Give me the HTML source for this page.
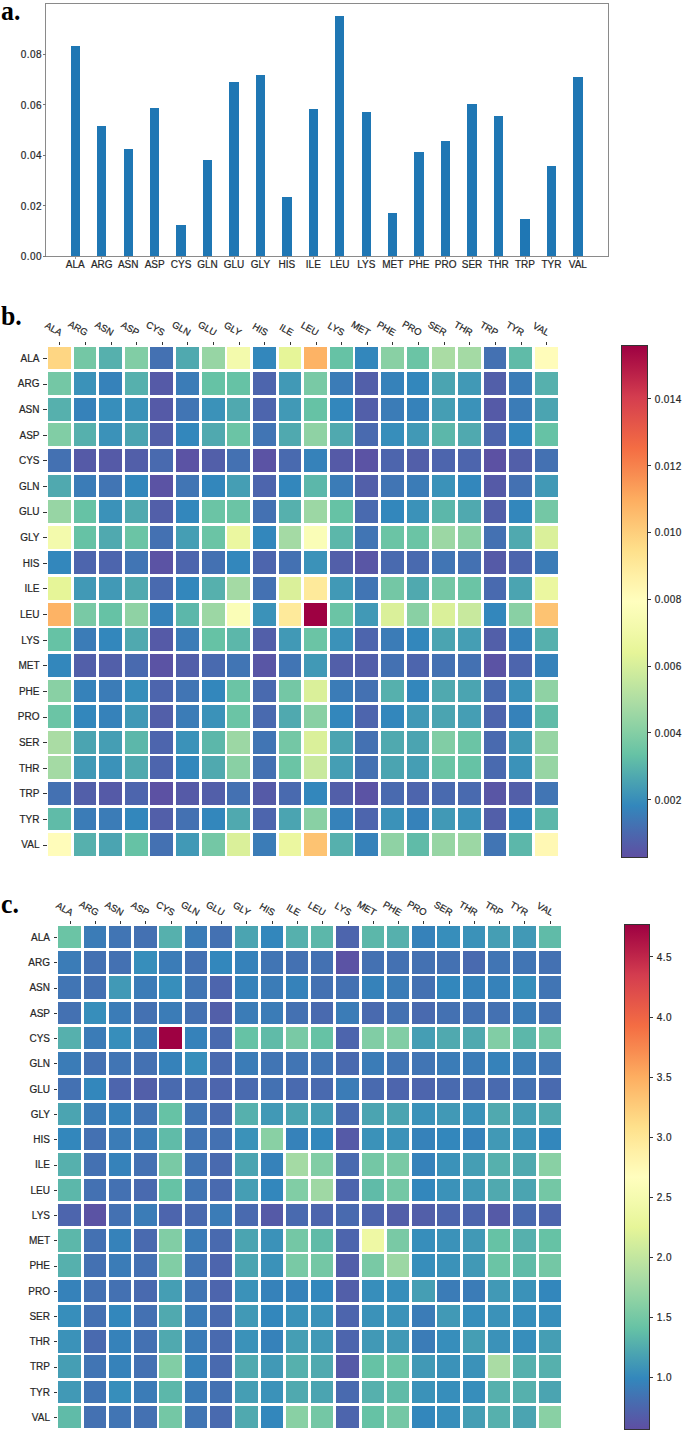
<!DOCTYPE html><html><head><meta charset="utf-8"><style>
*{margin:0;padding:0;box-sizing:border-box}
html,body{width:685px;height:1435px;background:#fff;overflow:hidden}
body{position:relative;font-family:"Liberation Sans", sans-serif;color:#262626}
.t,.rl,.cl{-webkit-text-stroke:0.2px #262626}
.a{position:absolute}
.pl{position:absolute;font-family:"Liberation Serif",serif;font-weight:bold;font-size:28px;line-height:1;color:#000;transform:scaleX(0.92);transform-origin:0 0}
.t{position:absolute;font-size:10px;line-height:1;white-space:nowrap}
.n{letter-spacing:0.4px}
.bar{position:absolute;background:#1f77b4}
.c{position:absolute}
.rl{position:absolute;font-size:10px;line-height:1;white-space:nowrap;text-align:right}
.cl{position:absolute;font-size:9.5px;line-height:1;white-space:nowrap;transform-origin:100% 100%;transform:rotate(30deg)}
.tk{position:absolute;background:#333}
</style></head><body>
<div class="pl" style="left:1px;top:-3.2px">a.</div>
<div class="a" style="left:45px;top:3.4px;width:564px;height:253.6px;border:1px solid #8a8a8a"></div>
<div class="bar" style="left:70.60px;top:46.20px;width:9.4px;height:210.00px"></div>
<div class="tk" style="left:74.90px;top:256.8px;width:0.8px;height:2px;background:#999"></div>
<div class="t" style="left:55.30px;top:260px;width:40px;text-align:center">ALA</div>
<div class="bar" style="left:97.05px;top:126.20px;width:9.4px;height:130.00px"></div>
<div class="tk" style="left:101.35px;top:256.8px;width:0.8px;height:2px;background:#999"></div>
<div class="t" style="left:81.75px;top:260px;width:40px;text-align:center">ARG</div>
<div class="bar" style="left:123.50px;top:149.30px;width:9.4px;height:106.90px"></div>
<div class="tk" style="left:127.80px;top:256.8px;width:0.8px;height:2px;background:#999"></div>
<div class="t" style="left:108.20px;top:260px;width:40px;text-align:center">ASN</div>
<div class="bar" style="left:149.95px;top:108.00px;width:9.4px;height:148.20px"></div>
<div class="tk" style="left:154.25px;top:256.8px;width:0.8px;height:2px;background:#999"></div>
<div class="t" style="left:134.65px;top:260px;width:40px;text-align:center">ASP</div>
<div class="bar" style="left:176.40px;top:224.60px;width:9.4px;height:31.60px"></div>
<div class="tk" style="left:180.70px;top:256.8px;width:0.8px;height:2px;background:#999"></div>
<div class="t" style="left:161.10px;top:260px;width:40px;text-align:center">CYS</div>
<div class="bar" style="left:202.85px;top:159.90px;width:9.4px;height:96.30px"></div>
<div class="tk" style="left:207.15px;top:256.8px;width:0.8px;height:2px;background:#999"></div>
<div class="t" style="left:187.55px;top:260px;width:40px;text-align:center">GLN</div>
<div class="bar" style="left:229.30px;top:82.00px;width:9.4px;height:174.20px"></div>
<div class="tk" style="left:233.60px;top:256.8px;width:0.8px;height:2px;background:#999"></div>
<div class="t" style="left:214.00px;top:260px;width:40px;text-align:center">GLU</div>
<div class="bar" style="left:255.75px;top:74.80px;width:9.4px;height:181.40px"></div>
<div class="tk" style="left:260.05px;top:256.8px;width:0.8px;height:2px;background:#999"></div>
<div class="t" style="left:240.45px;top:260px;width:40px;text-align:center">GLY</div>
<div class="bar" style="left:282.20px;top:196.60px;width:9.4px;height:59.60px"></div>
<div class="tk" style="left:286.50px;top:256.8px;width:0.8px;height:2px;background:#999"></div>
<div class="t" style="left:266.90px;top:260px;width:40px;text-align:center">HIS</div>
<div class="bar" style="left:308.65px;top:108.70px;width:9.4px;height:147.50px"></div>
<div class="tk" style="left:312.95px;top:256.8px;width:0.8px;height:2px;background:#999"></div>
<div class="t" style="left:293.35px;top:260px;width:40px;text-align:center">ILE</div>
<div class="bar" style="left:335.10px;top:15.50px;width:9.4px;height:240.70px"></div>
<div class="tk" style="left:339.40px;top:256.8px;width:0.8px;height:2px;background:#999"></div>
<div class="t" style="left:319.80px;top:260px;width:40px;text-align:center">LEU</div>
<div class="bar" style="left:361.55px;top:112.20px;width:9.4px;height:144.00px"></div>
<div class="tk" style="left:365.85px;top:256.8px;width:0.8px;height:2px;background:#999"></div>
<div class="t" style="left:346.25px;top:260px;width:40px;text-align:center">LYS</div>
<div class="bar" style="left:388.00px;top:213.20px;width:9.4px;height:43.00px"></div>
<div class="tk" style="left:392.30px;top:256.8px;width:0.8px;height:2px;background:#999"></div>
<div class="t" style="left:372.70px;top:260px;width:40px;text-align:center">MET</div>
<div class="bar" style="left:414.45px;top:151.50px;width:9.4px;height:104.70px"></div>
<div class="tk" style="left:418.75px;top:256.8px;width:0.8px;height:2px;background:#999"></div>
<div class="t" style="left:399.15px;top:260px;width:40px;text-align:center">PHE</div>
<div class="bar" style="left:440.90px;top:140.90px;width:9.4px;height:115.30px"></div>
<div class="tk" style="left:445.20px;top:256.8px;width:0.8px;height:2px;background:#999"></div>
<div class="t" style="left:425.60px;top:260px;width:40px;text-align:center">PRO</div>
<div class="bar" style="left:467.35px;top:103.80px;width:9.4px;height:152.40px"></div>
<div class="tk" style="left:471.65px;top:256.8px;width:0.8px;height:2px;background:#999"></div>
<div class="t" style="left:452.05px;top:260px;width:40px;text-align:center">SER</div>
<div class="bar" style="left:493.80px;top:116.30px;width:9.4px;height:139.90px"></div>
<div class="tk" style="left:498.10px;top:256.8px;width:0.8px;height:2px;background:#999"></div>
<div class="t" style="left:478.50px;top:260px;width:40px;text-align:center">THR</div>
<div class="bar" style="left:520.25px;top:219.40px;width:9.4px;height:36.80px"></div>
<div class="tk" style="left:524.55px;top:256.8px;width:0.8px;height:2px;background:#999"></div>
<div class="t" style="left:504.95px;top:260px;width:40px;text-align:center">TRP</div>
<div class="bar" style="left:546.70px;top:165.70px;width:9.4px;height:90.50px"></div>
<div class="tk" style="left:551.00px;top:256.8px;width:0.8px;height:2px;background:#999"></div>
<div class="t" style="left:531.40px;top:260px;width:40px;text-align:center">TYR</div>
<div class="bar" style="left:573.15px;top:77.20px;width:9.4px;height:179.00px"></div>
<div class="tk" style="left:577.45px;top:256.8px;width:0.8px;height:2px;background:#999"></div>
<div class="t" style="left:557.85px;top:260px;width:40px;text-align:center">VAL</div>
<div class="tk" style="left:43px;top:255.90px;width:2.5px;height:0.8px;background:#777"></div>
<div class="t n" style="left:0px;top:252.30px;width:41.9px;text-align:right">0.00</div>
<div class="tk" style="left:43px;top:205.40px;width:2.5px;height:0.8px;background:#777"></div>
<div class="t n" style="left:0px;top:201.80px;width:41.9px;text-align:right">0.02</div>
<div class="tk" style="left:43px;top:154.90px;width:2.5px;height:0.8px;background:#777"></div>
<div class="t n" style="left:0px;top:151.30px;width:41.9px;text-align:right">0.04</div>
<div class="tk" style="left:43px;top:104.40px;width:2.5px;height:0.8px;background:#777"></div>
<div class="t n" style="left:0px;top:100.80px;width:41.9px;text-align:right">0.06</div>
<div class="tk" style="left:43px;top:53.90px;width:2.5px;height:0.8px;background:#777"></div>
<div class="t n" style="left:0px;top:50.30px;width:41.9px;text-align:right">0.08</div>
<div class="pl" style="left:0.9px;top:302.3px">b.</div>
<div class="c" style="left:48.01px;top:346.51px;width:22.80px;height:22.80px;background:#fed683"></div>
<div class="c" style="left:73.63px;top:346.51px;width:22.80px;height:22.80px;background:#74c7a5"></div>
<div class="c" style="left:99.25px;top:346.51px;width:22.80px;height:22.80px;background:#56b0ad"></div>
<div class="c" style="left:124.87px;top:346.51px;width:22.80px;height:22.80px;background:#81cda5"></div>
<div class="c" style="left:150.49px;top:346.51px;width:22.80px;height:22.80px;background:#4471b2"></div>
<div class="c" style="left:176.11px;top:346.51px;width:22.80px;height:22.80px;background:#50a9af"></div>
<div class="c" style="left:201.73px;top:346.51px;width:22.80px;height:22.80px;background:#97d5a4"></div>
<div class="c" style="left:227.35px;top:346.51px;width:22.80px;height:22.80px;background:#f3faac"></div>
<div class="c" style="left:252.97px;top:346.51px;width:22.80px;height:22.80px;background:#3387bc"></div>
<div class="c" style="left:278.59px;top:346.51px;width:22.80px;height:22.80px;background:#e6f598"></div>
<div class="c" style="left:304.21px;top:346.51px;width:22.80px;height:22.80px;background:#fdb365"></div>
<div class="c" style="left:329.83px;top:346.51px;width:22.80px;height:22.80px;background:#66c2a5"></div>
<div class="c" style="left:355.45px;top:346.51px;width:22.80px;height:22.80px;background:#3387bc"></div>
<div class="c" style="left:381.07px;top:346.51px;width:22.80px;height:22.80px;background:#89d0a4"></div>
<div class="c" style="left:406.69px;top:346.51px;width:22.80px;height:22.80px;background:#6bc4a5"></div>
<div class="c" style="left:432.31px;top:346.51px;width:22.80px;height:22.80px;background:#aadca4"></div>
<div class="c" style="left:457.93px;top:346.51px;width:22.80px;height:22.80px;background:#a4daa4"></div>
<div class="c" style="left:483.55px;top:346.51px;width:22.80px;height:22.80px;background:#4471b2"></div>
<div class="c" style="left:509.17px;top:346.51px;width:22.80px;height:22.80px;background:#60bba8"></div>
<div class="c" style="left:534.79px;top:346.51px;width:22.80px;height:22.80px;background:#fffcba"></div>
<div class="c" style="left:48.01px;top:372.13px;width:22.80px;height:22.80px;background:#74c7a5"></div>
<div class="c" style="left:73.63px;top:372.13px;width:22.80px;height:22.80px;background:#3b92b9"></div>
<div class="c" style="left:99.25px;top:372.13px;width:22.80px;height:22.80px;background:#3682ba"></div>
<div class="c" style="left:124.87px;top:372.13px;width:22.80px;height:22.80px;background:#56b0ad"></div>
<div class="c" style="left:150.49px;top:372.13px;width:22.80px;height:22.80px;background:#555aa7"></div>
<div class="c" style="left:176.11px;top:372.13px;width:22.80px;height:22.80px;background:#3b7cb7"></div>
<div class="c" style="left:201.73px;top:372.13px;width:22.80px;height:22.80px;background:#66c2a5"></div>
<div class="c" style="left:227.35px;top:372.13px;width:22.80px;height:22.80px;background:#66c2a5"></div>
<div class="c" style="left:252.97px;top:372.13px;width:22.80px;height:22.80px;background:#4d65ad"></div>
<div class="c" style="left:278.59px;top:372.13px;width:22.80px;height:22.80px;background:#4199b6"></div>
<div class="c" style="left:304.21px;top:372.13px;width:22.80px;height:22.80px;background:#79c9a5"></div>
<div class="c" style="left:329.83px;top:372.13px;width:22.80px;height:22.80px;background:#3b7cb7"></div>
<div class="c" style="left:355.45px;top:372.13px;width:22.80px;height:22.80px;background:#525fa9"></div>
<div class="c" style="left:381.07px;top:372.13px;width:22.80px;height:22.80px;background:#3682ba"></div>
<div class="c" style="left:406.69px;top:372.13px;width:22.80px;height:22.80px;background:#3387bc"></div>
<div class="c" style="left:432.31px;top:372.13px;width:22.80px;height:22.80px;background:#4ba4b1"></div>
<div class="c" style="left:457.93px;top:372.13px;width:22.80px;height:22.80px;background:#4199b6"></div>
<div class="c" style="left:483.55px;top:372.13px;width:22.80px;height:22.80px;background:#525fa9"></div>
<div class="c" style="left:509.17px;top:372.13px;width:22.80px;height:22.80px;background:#3b7cb7"></div>
<div class="c" style="left:534.79px;top:372.13px;width:22.80px;height:22.80px;background:#56b0ad"></div>
<div class="c" style="left:48.01px;top:397.75px;width:22.80px;height:22.80px;background:#56b0ad"></div>
<div class="c" style="left:73.63px;top:397.75px;width:22.80px;height:22.80px;background:#3682ba"></div>
<div class="c" style="left:99.25px;top:397.75px;width:22.80px;height:22.80px;background:#378ebb"></div>
<div class="c" style="left:124.87px;top:397.75px;width:22.80px;height:22.80px;background:#3b92b9"></div>
<div class="c" style="left:150.49px;top:397.75px;width:22.80px;height:22.80px;background:#555aa7"></div>
<div class="c" style="left:176.11px;top:397.75px;width:22.80px;height:22.80px;background:#4175b4"></div>
<div class="c" style="left:201.73px;top:397.75px;width:22.80px;height:22.80px;background:#3b92b9"></div>
<div class="c" style="left:227.35px;top:397.75px;width:22.80px;height:22.80px;background:#50a9af"></div>
<div class="c" style="left:252.97px;top:397.75px;width:22.80px;height:22.80px;background:#4d65ad"></div>
<div class="c" style="left:278.59px;top:397.75px;width:22.80px;height:22.80px;background:#4199b6"></div>
<div class="c" style="left:304.21px;top:397.75px;width:22.80px;height:22.80px;background:#66c2a5"></div>
<div class="c" style="left:329.83px;top:397.75px;width:22.80px;height:22.80px;background:#3387bc"></div>
<div class="c" style="left:355.45px;top:397.75px;width:22.80px;height:22.80px;background:#525fa9"></div>
<div class="c" style="left:381.07px;top:397.75px;width:22.80px;height:22.80px;background:#3b7cb7"></div>
<div class="c" style="left:406.69px;top:397.75px;width:22.80px;height:22.80px;background:#3682ba"></div>
<div class="c" style="left:432.31px;top:397.75px;width:22.80px;height:22.80px;background:#459eb4"></div>
<div class="c" style="left:457.93px;top:397.75px;width:22.80px;height:22.80px;background:#3b92b9"></div>
<div class="c" style="left:483.55px;top:397.75px;width:22.80px;height:22.80px;background:#555aa7"></div>
<div class="c" style="left:509.17px;top:397.75px;width:22.80px;height:22.80px;background:#3b7cb7"></div>
<div class="c" style="left:534.79px;top:397.75px;width:22.80px;height:22.80px;background:#4ba4b1"></div>
<div class="c" style="left:48.01px;top:423.37px;width:22.80px;height:22.80px;background:#81cda5"></div>
<div class="c" style="left:73.63px;top:423.37px;width:22.80px;height:22.80px;background:#56b0ad"></div>
<div class="c" style="left:99.25px;top:423.37px;width:22.80px;height:22.80px;background:#3b92b9"></div>
<div class="c" style="left:124.87px;top:423.37px;width:22.80px;height:22.80px;background:#4ba4b1"></div>
<div class="c" style="left:150.49px;top:423.37px;width:22.80px;height:22.80px;background:#525fa9"></div>
<div class="c" style="left:176.11px;top:423.37px;width:22.80px;height:22.80px;background:#3387bc"></div>
<div class="c" style="left:201.73px;top:423.37px;width:22.80px;height:22.80px;background:#50a9af"></div>
<div class="c" style="left:227.35px;top:423.37px;width:22.80px;height:22.80px;background:#6bc4a5"></div>
<div class="c" style="left:252.97px;top:423.37px;width:22.80px;height:22.80px;background:#4175b4"></div>
<div class="c" style="left:278.59px;top:423.37px;width:22.80px;height:22.80px;background:#50a9af"></div>
<div class="c" style="left:304.21px;top:423.37px;width:22.80px;height:22.80px;background:#8fd2a4"></div>
<div class="c" style="left:329.83px;top:423.37px;width:22.80px;height:22.80px;background:#50a9af"></div>
<div class="c" style="left:355.45px;top:423.37px;width:22.80px;height:22.80px;background:#496aaf"></div>
<div class="c" style="left:381.07px;top:423.37px;width:22.80px;height:22.80px;background:#378ebb"></div>
<div class="c" style="left:406.69px;top:423.37px;width:22.80px;height:22.80px;background:#4199b6"></div>
<div class="c" style="left:432.31px;top:423.37px;width:22.80px;height:22.80px;background:#5cb7aa"></div>
<div class="c" style="left:457.93px;top:423.37px;width:22.80px;height:22.80px;background:#50a9af"></div>
<div class="c" style="left:483.55px;top:423.37px;width:22.80px;height:22.80px;background:#4d65ad"></div>
<div class="c" style="left:509.17px;top:423.37px;width:22.80px;height:22.80px;background:#3387bc"></div>
<div class="c" style="left:534.79px;top:423.37px;width:22.80px;height:22.80px;background:#66c2a5"></div>
<div class="c" style="left:48.01px;top:448.99px;width:22.80px;height:22.80px;background:#4471b2"></div>
<div class="c" style="left:73.63px;top:448.99px;width:22.80px;height:22.80px;background:#555aa7"></div>
<div class="c" style="left:99.25px;top:448.99px;width:22.80px;height:22.80px;background:#555aa7"></div>
<div class="c" style="left:124.87px;top:448.99px;width:22.80px;height:22.80px;background:#525fa9"></div>
<div class="c" style="left:150.49px;top:448.99px;width:22.80px;height:22.80px;background:#496aaf"></div>
<div class="c" style="left:176.11px;top:448.99px;width:22.80px;height:22.80px;background:#5b53a4"></div>
<div class="c" style="left:201.73px;top:448.99px;width:22.80px;height:22.80px;background:#525fa9"></div>
<div class="c" style="left:227.35px;top:448.99px;width:22.80px;height:22.80px;background:#4471b2"></div>
<div class="c" style="left:252.97px;top:448.99px;width:22.80px;height:22.80px;background:#5b53a4"></div>
<div class="c" style="left:278.59px;top:448.99px;width:22.80px;height:22.80px;background:#496aaf"></div>
<div class="c" style="left:304.21px;top:448.99px;width:22.80px;height:22.80px;background:#3682ba"></div>
<div class="c" style="left:329.83px;top:448.99px;width:22.80px;height:22.80px;background:#555aa7"></div>
<div class="c" style="left:355.45px;top:448.99px;width:22.80px;height:22.80px;background:#5b53a4"></div>
<div class="c" style="left:381.07px;top:448.99px;width:22.80px;height:22.80px;background:#4d65ad"></div>
<div class="c" style="left:406.69px;top:448.99px;width:22.80px;height:22.80px;background:#525fa9"></div>
<div class="c" style="left:432.31px;top:448.99px;width:22.80px;height:22.80px;background:#4d65ad"></div>
<div class="c" style="left:457.93px;top:448.99px;width:22.80px;height:22.80px;background:#4d65ad"></div>
<div class="c" style="left:483.55px;top:448.99px;width:22.80px;height:22.80px;background:#5c51a3"></div>
<div class="c" style="left:509.17px;top:448.99px;width:22.80px;height:22.80px;background:#525fa9"></div>
<div class="c" style="left:534.79px;top:448.99px;width:22.80px;height:22.80px;background:#4471b2"></div>
<div class="c" style="left:48.01px;top:474.61px;width:22.80px;height:22.80px;background:#50a9af"></div>
<div class="c" style="left:73.63px;top:474.61px;width:22.80px;height:22.80px;background:#3b7cb7"></div>
<div class="c" style="left:99.25px;top:474.61px;width:22.80px;height:22.80px;background:#4175b4"></div>
<div class="c" style="left:124.87px;top:474.61px;width:22.80px;height:22.80px;background:#3387bc"></div>
<div class="c" style="left:150.49px;top:474.61px;width:22.80px;height:22.80px;background:#5b53a4"></div>
<div class="c" style="left:176.11px;top:474.61px;width:22.80px;height:22.80px;background:#4175b4"></div>
<div class="c" style="left:201.73px;top:474.61px;width:22.80px;height:22.80px;background:#3387bc"></div>
<div class="c" style="left:227.35px;top:474.61px;width:22.80px;height:22.80px;background:#459eb4"></div>
<div class="c" style="left:252.97px;top:474.61px;width:22.80px;height:22.80px;background:#4d65ad"></div>
<div class="c" style="left:278.59px;top:474.61px;width:22.80px;height:22.80px;background:#3387bc"></div>
<div class="c" style="left:304.21px;top:474.61px;width:22.80px;height:22.80px;background:#5cb7aa"></div>
<div class="c" style="left:329.83px;top:474.61px;width:22.80px;height:22.80px;background:#3b7cb7"></div>
<div class="c" style="left:355.45px;top:474.61px;width:22.80px;height:22.80px;background:#525fa9"></div>
<div class="c" style="left:381.07px;top:474.61px;width:22.80px;height:22.80px;background:#4175b4"></div>
<div class="c" style="left:406.69px;top:474.61px;width:22.80px;height:22.80px;background:#3b7cb7"></div>
<div class="c" style="left:432.31px;top:474.61px;width:22.80px;height:22.80px;background:#3b92b9"></div>
<div class="c" style="left:457.93px;top:474.61px;width:22.80px;height:22.80px;background:#3387bc"></div>
<div class="c" style="left:483.55px;top:474.61px;width:22.80px;height:22.80px;background:#555aa7"></div>
<div class="c" style="left:509.17px;top:474.61px;width:22.80px;height:22.80px;background:#4471b2"></div>
<div class="c" style="left:534.79px;top:474.61px;width:22.80px;height:22.80px;background:#4199b6"></div>
<div class="c" style="left:48.01px;top:500.23px;width:22.80px;height:22.80px;background:#97d5a4"></div>
<div class="c" style="left:73.63px;top:500.23px;width:22.80px;height:22.80px;background:#66c2a5"></div>
<div class="c" style="left:99.25px;top:500.23px;width:22.80px;height:22.80px;background:#3b92b9"></div>
<div class="c" style="left:124.87px;top:500.23px;width:22.80px;height:22.80px;background:#50a9af"></div>
<div class="c" style="left:150.49px;top:500.23px;width:22.80px;height:22.80px;background:#525fa9"></div>
<div class="c" style="left:176.11px;top:500.23px;width:22.80px;height:22.80px;background:#3387bc"></div>
<div class="c" style="left:201.73px;top:500.23px;width:22.80px;height:22.80px;background:#6bc4a5"></div>
<div class="c" style="left:227.35px;top:500.23px;width:22.80px;height:22.80px;background:#6bc4a5"></div>
<div class="c" style="left:252.97px;top:500.23px;width:22.80px;height:22.80px;background:#4471b2"></div>
<div class="c" style="left:278.59px;top:500.23px;width:22.80px;height:22.80px;background:#56b0ad"></div>
<div class="c" style="left:304.21px;top:500.23px;width:22.80px;height:22.80px;background:#9cd7a4"></div>
<div class="c" style="left:329.83px;top:500.23px;width:22.80px;height:22.80px;background:#66c2a5"></div>
<div class="c" style="left:355.45px;top:500.23px;width:22.80px;height:22.80px;background:#496aaf"></div>
<div class="c" style="left:381.07px;top:500.23px;width:22.80px;height:22.80px;background:#3387bc"></div>
<div class="c" style="left:406.69px;top:500.23px;width:22.80px;height:22.80px;background:#3b92b9"></div>
<div class="c" style="left:432.31px;top:500.23px;width:22.80px;height:22.80px;background:#5cb7aa"></div>
<div class="c" style="left:457.93px;top:500.23px;width:22.80px;height:22.80px;background:#50a9af"></div>
<div class="c" style="left:483.55px;top:500.23px;width:22.80px;height:22.80px;background:#525fa9"></div>
<div class="c" style="left:509.17px;top:500.23px;width:22.80px;height:22.80px;background:#3387bc"></div>
<div class="c" style="left:534.79px;top:500.23px;width:22.80px;height:22.80px;background:#74c7a5"></div>
<div class="c" style="left:48.01px;top:525.85px;width:22.80px;height:22.80px;background:#f3faac"></div>
<div class="c" style="left:73.63px;top:525.85px;width:22.80px;height:22.80px;background:#66c2a5"></div>
<div class="c" style="left:99.25px;top:525.85px;width:22.80px;height:22.80px;background:#50a9af"></div>
<div class="c" style="left:124.87px;top:525.85px;width:22.80px;height:22.80px;background:#6bc4a5"></div>
<div class="c" style="left:150.49px;top:525.85px;width:22.80px;height:22.80px;background:#4471b2"></div>
<div class="c" style="left:176.11px;top:525.85px;width:22.80px;height:22.80px;background:#459eb4"></div>
<div class="c" style="left:201.73px;top:525.85px;width:22.80px;height:22.80px;background:#6bc4a5"></div>
<div class="c" style="left:227.35px;top:525.85px;width:22.80px;height:22.80px;background:#ebf7a0"></div>
<div class="c" style="left:252.97px;top:525.85px;width:22.80px;height:22.80px;background:#3387bc"></div>
<div class="c" style="left:278.59px;top:525.85px;width:22.80px;height:22.80px;background:#a4daa4"></div>
<div class="c" style="left:304.21px;top:525.85px;width:22.80px;height:22.80px;background:#fafdb7"></div>
<div class="c" style="left:329.83px;top:525.85px;width:22.80px;height:22.80px;background:#5cb7aa"></div>
<div class="c" style="left:355.45px;top:525.85px;width:22.80px;height:22.80px;background:#4175b4"></div>
<div class="c" style="left:381.07px;top:525.85px;width:22.80px;height:22.80px;background:#6bc4a5"></div>
<div class="c" style="left:406.69px;top:525.85px;width:22.80px;height:22.80px;background:#6bc4a5"></div>
<div class="c" style="left:432.31px;top:525.85px;width:22.80px;height:22.80px;background:#9cd7a4"></div>
<div class="c" style="left:457.93px;top:525.85px;width:22.80px;height:22.80px;background:#89d0a4"></div>
<div class="c" style="left:483.55px;top:525.85px;width:22.80px;height:22.80px;background:#4471b2"></div>
<div class="c" style="left:509.17px;top:525.85px;width:22.80px;height:22.80px;background:#50a9af"></div>
<div class="c" style="left:534.79px;top:525.85px;width:22.80px;height:22.80px;background:#daf09a"></div>
<div class="c" style="left:48.01px;top:551.47px;width:22.80px;height:22.80px;background:#3387bc"></div>
<div class="c" style="left:73.63px;top:551.47px;width:22.80px;height:22.80px;background:#4d65ad"></div>
<div class="c" style="left:99.25px;top:551.47px;width:22.80px;height:22.80px;background:#4d65ad"></div>
<div class="c" style="left:124.87px;top:551.47px;width:22.80px;height:22.80px;background:#4175b4"></div>
<div class="c" style="left:150.49px;top:551.47px;width:22.80px;height:22.80px;background:#5b53a4"></div>
<div class="c" style="left:176.11px;top:551.47px;width:22.80px;height:22.80px;background:#4d65ad"></div>
<div class="c" style="left:201.73px;top:551.47px;width:22.80px;height:22.80px;background:#4471b2"></div>
<div class="c" style="left:227.35px;top:551.47px;width:22.80px;height:22.80px;background:#3387bc"></div>
<div class="c" style="left:252.97px;top:551.47px;width:22.80px;height:22.80px;background:#4d65ad"></div>
<div class="c" style="left:278.59px;top:551.47px;width:22.80px;height:22.80px;background:#4471b2"></div>
<div class="c" style="left:304.21px;top:551.47px;width:22.80px;height:22.80px;background:#3b92b9"></div>
<div class="c" style="left:329.83px;top:551.47px;width:22.80px;height:22.80px;background:#525fa9"></div>
<div class="c" style="left:355.45px;top:551.47px;width:22.80px;height:22.80px;background:#5956a5"></div>
<div class="c" style="left:381.07px;top:551.47px;width:22.80px;height:22.80px;background:#496aaf"></div>
<div class="c" style="left:406.69px;top:551.47px;width:22.80px;height:22.80px;background:#496aaf"></div>
<div class="c" style="left:432.31px;top:551.47px;width:22.80px;height:22.80px;background:#4175b4"></div>
<div class="c" style="left:457.93px;top:551.47px;width:22.80px;height:22.80px;background:#4471b2"></div>
<div class="c" style="left:483.55px;top:551.47px;width:22.80px;height:22.80px;background:#555aa7"></div>
<div class="c" style="left:509.17px;top:551.47px;width:22.80px;height:22.80px;background:#4d65ad"></div>
<div class="c" style="left:534.79px;top:551.47px;width:22.80px;height:22.80px;background:#3b7cb7"></div>
<div class="c" style="left:48.01px;top:577.09px;width:22.80px;height:22.80px;background:#e6f598"></div>
<div class="c" style="left:73.63px;top:577.09px;width:22.80px;height:22.80px;background:#4199b6"></div>
<div class="c" style="left:99.25px;top:577.09px;width:22.80px;height:22.80px;background:#4199b6"></div>
<div class="c" style="left:124.87px;top:577.09px;width:22.80px;height:22.80px;background:#50a9af"></div>
<div class="c" style="left:150.49px;top:577.09px;width:22.80px;height:22.80px;background:#496aaf"></div>
<div class="c" style="left:176.11px;top:577.09px;width:22.80px;height:22.80px;background:#3387bc"></div>
<div class="c" style="left:201.73px;top:577.09px;width:22.80px;height:22.80px;background:#56b0ad"></div>
<div class="c" style="left:227.35px;top:577.09px;width:22.80px;height:22.80px;background:#a4daa4"></div>
<div class="c" style="left:252.97px;top:577.09px;width:22.80px;height:22.80px;background:#4471b2"></div>
<div class="c" style="left:278.59px;top:577.09px;width:22.80px;height:22.80px;background:#daf09a"></div>
<div class="c" style="left:304.21px;top:577.09px;width:22.80px;height:22.80px;background:#feea9b"></div>
<div class="c" style="left:329.83px;top:577.09px;width:22.80px;height:22.80px;background:#4199b6"></div>
<div class="c" style="left:355.45px;top:577.09px;width:22.80px;height:22.80px;background:#4175b4"></div>
<div class="c" style="left:381.07px;top:577.09px;width:22.80px;height:22.80px;background:#74c7a5"></div>
<div class="c" style="left:406.69px;top:577.09px;width:22.80px;height:22.80px;background:#50a9af"></div>
<div class="c" style="left:432.31px;top:577.09px;width:22.80px;height:22.80px;background:#74c7a5"></div>
<div class="c" style="left:457.93px;top:577.09px;width:22.80px;height:22.80px;background:#6bc4a5"></div>
<div class="c" style="left:483.55px;top:577.09px;width:22.80px;height:22.80px;background:#496aaf"></div>
<div class="c" style="left:509.17px;top:577.09px;width:22.80px;height:22.80px;background:#4ba4b1"></div>
<div class="c" style="left:534.79px;top:577.09px;width:22.80px;height:22.80px;background:#ebf7a0"></div>
<div class="c" style="left:48.01px;top:602.71px;width:22.80px;height:22.80px;background:#fdb365"></div>
<div class="c" style="left:73.63px;top:602.71px;width:22.80px;height:22.80px;background:#79c9a5"></div>
<div class="c" style="left:99.25px;top:602.71px;width:22.80px;height:22.80px;background:#66c2a5"></div>
<div class="c" style="left:124.87px;top:602.71px;width:22.80px;height:22.80px;background:#8fd2a4"></div>
<div class="c" style="left:150.49px;top:602.71px;width:22.80px;height:22.80px;background:#3682ba"></div>
<div class="c" style="left:176.11px;top:602.71px;width:22.80px;height:22.80px;background:#5cb7aa"></div>
<div class="c" style="left:201.73px;top:602.71px;width:22.80px;height:22.80px;background:#9cd7a4"></div>
<div class="c" style="left:227.35px;top:602.71px;width:22.80px;height:22.80px;background:#fafdb7"></div>
<div class="c" style="left:252.97px;top:602.71px;width:22.80px;height:22.80px;background:#3b92b9"></div>
<div class="c" style="left:278.59px;top:602.71px;width:22.80px;height:22.80px;background:#feea9b"></div>
<div class="c" style="left:304.21px;top:602.71px;width:22.80px;height:22.80px;background:#9e0142"></div>
<div class="c" style="left:329.83px;top:602.71px;width:22.80px;height:22.80px;background:#6bc4a5"></div>
<div class="c" style="left:355.45px;top:602.71px;width:22.80px;height:22.80px;background:#4199b6"></div>
<div class="c" style="left:381.07px;top:602.71px;width:22.80px;height:22.80px;background:#daf09a"></div>
<div class="c" style="left:406.69px;top:602.71px;width:22.80px;height:22.80px;background:#89d0a4"></div>
<div class="c" style="left:432.31px;top:602.71px;width:22.80px;height:22.80px;background:#daf09a"></div>
<div class="c" style="left:457.93px;top:602.71px;width:22.80px;height:22.80px;background:#c8e99e"></div>
<div class="c" style="left:483.55px;top:602.71px;width:22.80px;height:22.80px;background:#3387bc"></div>
<div class="c" style="left:509.17px;top:602.71px;width:22.80px;height:22.80px;background:#89d0a4"></div>
<div class="c" style="left:534.79px;top:602.71px;width:22.80px;height:22.80px;background:#fdc372"></div>
<div class="c" style="left:48.01px;top:628.33px;width:22.80px;height:22.80px;background:#66c2a5"></div>
<div class="c" style="left:73.63px;top:628.33px;width:22.80px;height:22.80px;background:#3b7cb7"></div>
<div class="c" style="left:99.25px;top:628.33px;width:22.80px;height:22.80px;background:#3387bc"></div>
<div class="c" style="left:124.87px;top:628.33px;width:22.80px;height:22.80px;background:#50a9af"></div>
<div class="c" style="left:150.49px;top:628.33px;width:22.80px;height:22.80px;background:#555aa7"></div>
<div class="c" style="left:176.11px;top:628.33px;width:22.80px;height:22.80px;background:#3b7cb7"></div>
<div class="c" style="left:201.73px;top:628.33px;width:22.80px;height:22.80px;background:#66c2a5"></div>
<div class="c" style="left:227.35px;top:628.33px;width:22.80px;height:22.80px;background:#5cb7aa"></div>
<div class="c" style="left:252.97px;top:628.33px;width:22.80px;height:22.80px;background:#525fa9"></div>
<div class="c" style="left:278.59px;top:628.33px;width:22.80px;height:22.80px;background:#4199b6"></div>
<div class="c" style="left:304.21px;top:628.33px;width:22.80px;height:22.80px;background:#6bc4a5"></div>
<div class="c" style="left:329.83px;top:628.33px;width:22.80px;height:22.80px;background:#3b92b9"></div>
<div class="c" style="left:355.45px;top:628.33px;width:22.80px;height:22.80px;background:#4d65ad"></div>
<div class="c" style="left:381.07px;top:628.33px;width:22.80px;height:22.80px;background:#3b7cb7"></div>
<div class="c" style="left:406.69px;top:628.33px;width:22.80px;height:22.80px;background:#3387bc"></div>
<div class="c" style="left:432.31px;top:628.33px;width:22.80px;height:22.80px;background:#4ba4b1"></div>
<div class="c" style="left:457.93px;top:628.33px;width:22.80px;height:22.80px;background:#459eb4"></div>
<div class="c" style="left:483.55px;top:628.33px;width:22.80px;height:22.80px;background:#525fa9"></div>
<div class="c" style="left:509.17px;top:628.33px;width:22.80px;height:22.80px;background:#3682ba"></div>
<div class="c" style="left:534.79px;top:628.33px;width:22.80px;height:22.80px;background:#56b0ad"></div>
<div class="c" style="left:48.01px;top:653.95px;width:22.80px;height:22.80px;background:#3387bc"></div>
<div class="c" style="left:73.63px;top:653.95px;width:22.80px;height:22.80px;background:#525fa9"></div>
<div class="c" style="left:99.25px;top:653.95px;width:22.80px;height:22.80px;background:#525fa9"></div>
<div class="c" style="left:124.87px;top:653.95px;width:22.80px;height:22.80px;background:#496aaf"></div>
<div class="c" style="left:150.49px;top:653.95px;width:22.80px;height:22.80px;background:#5b53a4"></div>
<div class="c" style="left:176.11px;top:653.95px;width:22.80px;height:22.80px;background:#525fa9"></div>
<div class="c" style="left:201.73px;top:653.95px;width:22.80px;height:22.80px;background:#496aaf"></div>
<div class="c" style="left:227.35px;top:653.95px;width:22.80px;height:22.80px;background:#4175b4"></div>
<div class="c" style="left:252.97px;top:653.95px;width:22.80px;height:22.80px;background:#5956a5"></div>
<div class="c" style="left:278.59px;top:653.95px;width:22.80px;height:22.80px;background:#4175b4"></div>
<div class="c" style="left:304.21px;top:653.95px;width:22.80px;height:22.80px;background:#4199b6"></div>
<div class="c" style="left:329.83px;top:653.95px;width:22.80px;height:22.80px;background:#525fa9"></div>
<div class="c" style="left:355.45px;top:653.95px;width:22.80px;height:22.80px;background:#525fa9"></div>
<div class="c" style="left:381.07px;top:653.95px;width:22.80px;height:22.80px;background:#4471b2"></div>
<div class="c" style="left:406.69px;top:653.95px;width:22.80px;height:22.80px;background:#4d65ad"></div>
<div class="c" style="left:432.31px;top:653.95px;width:22.80px;height:22.80px;background:#4471b2"></div>
<div class="c" style="left:457.93px;top:653.95px;width:22.80px;height:22.80px;background:#4471b2"></div>
<div class="c" style="left:483.55px;top:653.95px;width:22.80px;height:22.80px;background:#5b53a4"></div>
<div class="c" style="left:509.17px;top:653.95px;width:22.80px;height:22.80px;background:#4d65ad"></div>
<div class="c" style="left:534.79px;top:653.95px;width:22.80px;height:22.80px;background:#3682ba"></div>
<div class="c" style="left:48.01px;top:679.57px;width:22.80px;height:22.80px;background:#89d0a4"></div>
<div class="c" style="left:73.63px;top:679.57px;width:22.80px;height:22.80px;background:#3682ba"></div>
<div class="c" style="left:99.25px;top:679.57px;width:22.80px;height:22.80px;background:#3b7cb7"></div>
<div class="c" style="left:124.87px;top:679.57px;width:22.80px;height:22.80px;background:#378ebb"></div>
<div class="c" style="left:150.49px;top:679.57px;width:22.80px;height:22.80px;background:#4d65ad"></div>
<div class="c" style="left:176.11px;top:679.57px;width:22.80px;height:22.80px;background:#4175b4"></div>
<div class="c" style="left:201.73px;top:679.57px;width:22.80px;height:22.80px;background:#3387bc"></div>
<div class="c" style="left:227.35px;top:679.57px;width:22.80px;height:22.80px;background:#6bc4a5"></div>
<div class="c" style="left:252.97px;top:679.57px;width:22.80px;height:22.80px;background:#496aaf"></div>
<div class="c" style="left:278.59px;top:679.57px;width:22.80px;height:22.80px;background:#74c7a5"></div>
<div class="c" style="left:304.21px;top:679.57px;width:22.80px;height:22.80px;background:#daf09a"></div>
<div class="c" style="left:329.83px;top:679.57px;width:22.80px;height:22.80px;background:#3b7cb7"></div>
<div class="c" style="left:355.45px;top:679.57px;width:22.80px;height:22.80px;background:#4471b2"></div>
<div class="c" style="left:381.07px;top:679.57px;width:22.80px;height:22.80px;background:#56b0ad"></div>
<div class="c" style="left:406.69px;top:679.57px;width:22.80px;height:22.80px;background:#3387bc"></div>
<div class="c" style="left:432.31px;top:679.57px;width:22.80px;height:22.80px;background:#50a9af"></div>
<div class="c" style="left:457.93px;top:679.57px;width:22.80px;height:22.80px;background:#4ba4b1"></div>
<div class="c" style="left:483.55px;top:679.57px;width:22.80px;height:22.80px;background:#496aaf"></div>
<div class="c" style="left:509.17px;top:679.57px;width:22.80px;height:22.80px;background:#3b92b9"></div>
<div class="c" style="left:534.79px;top:679.57px;width:22.80px;height:22.80px;background:#8fd2a4"></div>
<div class="c" style="left:48.01px;top:705.19px;width:22.80px;height:22.80px;background:#6bc4a5"></div>
<div class="c" style="left:73.63px;top:705.19px;width:22.80px;height:22.80px;background:#3387bc"></div>
<div class="c" style="left:99.25px;top:705.19px;width:22.80px;height:22.80px;background:#3682ba"></div>
<div class="c" style="left:124.87px;top:705.19px;width:22.80px;height:22.80px;background:#4199b6"></div>
<div class="c" style="left:150.49px;top:705.19px;width:22.80px;height:22.80px;background:#525fa9"></div>
<div class="c" style="left:176.11px;top:705.19px;width:22.80px;height:22.80px;background:#3b7cb7"></div>
<div class="c" style="left:201.73px;top:705.19px;width:22.80px;height:22.80px;background:#3b92b9"></div>
<div class="c" style="left:227.35px;top:705.19px;width:22.80px;height:22.80px;background:#6bc4a5"></div>
<div class="c" style="left:252.97px;top:705.19px;width:22.80px;height:22.80px;background:#496aaf"></div>
<div class="c" style="left:278.59px;top:705.19px;width:22.80px;height:22.80px;background:#50a9af"></div>
<div class="c" style="left:304.21px;top:705.19px;width:22.80px;height:22.80px;background:#89d0a4"></div>
<div class="c" style="left:329.83px;top:705.19px;width:22.80px;height:22.80px;background:#3387bc"></div>
<div class="c" style="left:355.45px;top:705.19px;width:22.80px;height:22.80px;background:#4d65ad"></div>
<div class="c" style="left:381.07px;top:705.19px;width:22.80px;height:22.80px;background:#3387bc"></div>
<div class="c" style="left:406.69px;top:705.19px;width:22.80px;height:22.80px;background:#4199b6"></div>
<div class="c" style="left:432.31px;top:705.19px;width:22.80px;height:22.80px;background:#4ba4b1"></div>
<div class="c" style="left:457.93px;top:705.19px;width:22.80px;height:22.80px;background:#459eb4"></div>
<div class="c" style="left:483.55px;top:705.19px;width:22.80px;height:22.80px;background:#4d65ad"></div>
<div class="c" style="left:509.17px;top:705.19px;width:22.80px;height:22.80px;background:#3682ba"></div>
<div class="c" style="left:534.79px;top:705.19px;width:22.80px;height:22.80px;background:#60bba8"></div>
<div class="c" style="left:48.01px;top:730.81px;width:22.80px;height:22.80px;background:#aadca4"></div>
<div class="c" style="left:73.63px;top:730.81px;width:22.80px;height:22.80px;background:#4ba4b1"></div>
<div class="c" style="left:99.25px;top:730.81px;width:22.80px;height:22.80px;background:#459eb4"></div>
<div class="c" style="left:124.87px;top:730.81px;width:22.80px;height:22.80px;background:#5cb7aa"></div>
<div class="c" style="left:150.49px;top:730.81px;width:22.80px;height:22.80px;background:#4d65ad"></div>
<div class="c" style="left:176.11px;top:730.81px;width:22.80px;height:22.80px;background:#3b92b9"></div>
<div class="c" style="left:201.73px;top:730.81px;width:22.80px;height:22.80px;background:#5cb7aa"></div>
<div class="c" style="left:227.35px;top:730.81px;width:22.80px;height:22.80px;background:#9cd7a4"></div>
<div class="c" style="left:252.97px;top:730.81px;width:22.80px;height:22.80px;background:#4175b4"></div>
<div class="c" style="left:278.59px;top:730.81px;width:22.80px;height:22.80px;background:#74c7a5"></div>
<div class="c" style="left:304.21px;top:730.81px;width:22.80px;height:22.80px;background:#daf09a"></div>
<div class="c" style="left:329.83px;top:730.81px;width:22.80px;height:22.80px;background:#4ba4b1"></div>
<div class="c" style="left:355.45px;top:730.81px;width:22.80px;height:22.80px;background:#4471b2"></div>
<div class="c" style="left:381.07px;top:730.81px;width:22.80px;height:22.80px;background:#50a9af"></div>
<div class="c" style="left:406.69px;top:730.81px;width:22.80px;height:22.80px;background:#4ba4b1"></div>
<div class="c" style="left:432.31px;top:730.81px;width:22.80px;height:22.80px;background:#81cda5"></div>
<div class="c" style="left:457.93px;top:730.81px;width:22.80px;height:22.80px;background:#6bc4a5"></div>
<div class="c" style="left:483.55px;top:730.81px;width:22.80px;height:22.80px;background:#496aaf"></div>
<div class="c" style="left:509.17px;top:730.81px;width:22.80px;height:22.80px;background:#4199b6"></div>
<div class="c" style="left:534.79px;top:730.81px;width:22.80px;height:22.80px;background:#97d5a4"></div>
<div class="c" style="left:48.01px;top:756.43px;width:22.80px;height:22.80px;background:#a4daa4"></div>
<div class="c" style="left:73.63px;top:756.43px;width:22.80px;height:22.80px;background:#4199b6"></div>
<div class="c" style="left:99.25px;top:756.43px;width:22.80px;height:22.80px;background:#3b92b9"></div>
<div class="c" style="left:124.87px;top:756.43px;width:22.80px;height:22.80px;background:#50a9af"></div>
<div class="c" style="left:150.49px;top:756.43px;width:22.80px;height:22.80px;background:#4d65ad"></div>
<div class="c" style="left:176.11px;top:756.43px;width:22.80px;height:22.80px;background:#3387bc"></div>
<div class="c" style="left:201.73px;top:756.43px;width:22.80px;height:22.80px;background:#50a9af"></div>
<div class="c" style="left:227.35px;top:756.43px;width:22.80px;height:22.80px;background:#89d0a4"></div>
<div class="c" style="left:252.97px;top:756.43px;width:22.80px;height:22.80px;background:#4471b2"></div>
<div class="c" style="left:278.59px;top:756.43px;width:22.80px;height:22.80px;background:#6bc4a5"></div>
<div class="c" style="left:304.21px;top:756.43px;width:22.80px;height:22.80px;background:#c8e99e"></div>
<div class="c" style="left:329.83px;top:756.43px;width:22.80px;height:22.80px;background:#459eb4"></div>
<div class="c" style="left:355.45px;top:756.43px;width:22.80px;height:22.80px;background:#4471b2"></div>
<div class="c" style="left:381.07px;top:756.43px;width:22.80px;height:22.80px;background:#4ba4b1"></div>
<div class="c" style="left:406.69px;top:756.43px;width:22.80px;height:22.80px;background:#459eb4"></div>
<div class="c" style="left:432.31px;top:756.43px;width:22.80px;height:22.80px;background:#6bc4a5"></div>
<div class="c" style="left:457.93px;top:756.43px;width:22.80px;height:22.80px;background:#66c2a5"></div>
<div class="c" style="left:483.55px;top:756.43px;width:22.80px;height:22.80px;background:#496aaf"></div>
<div class="c" style="left:509.17px;top:756.43px;width:22.80px;height:22.80px;background:#3b92b9"></div>
<div class="c" style="left:534.79px;top:756.43px;width:22.80px;height:22.80px;background:#97d5a4"></div>
<div class="c" style="left:48.01px;top:782.05px;width:22.80px;height:22.80px;background:#4471b2"></div>
<div class="c" style="left:73.63px;top:782.05px;width:22.80px;height:22.80px;background:#525fa9"></div>
<div class="c" style="left:99.25px;top:782.05px;width:22.80px;height:22.80px;background:#555aa7"></div>
<div class="c" style="left:124.87px;top:782.05px;width:22.80px;height:22.80px;background:#4d65ad"></div>
<div class="c" style="left:150.49px;top:782.05px;width:22.80px;height:22.80px;background:#5c51a3"></div>
<div class="c" style="left:176.11px;top:782.05px;width:22.80px;height:22.80px;background:#555aa7"></div>
<div class="c" style="left:201.73px;top:782.05px;width:22.80px;height:22.80px;background:#525fa9"></div>
<div class="c" style="left:227.35px;top:782.05px;width:22.80px;height:22.80px;background:#4471b2"></div>
<div class="c" style="left:252.97px;top:782.05px;width:22.80px;height:22.80px;background:#555aa7"></div>
<div class="c" style="left:278.59px;top:782.05px;width:22.80px;height:22.80px;background:#496aaf"></div>
<div class="c" style="left:304.21px;top:782.05px;width:22.80px;height:22.80px;background:#3387bc"></div>
<div class="c" style="left:329.83px;top:782.05px;width:22.80px;height:22.80px;background:#525fa9"></div>
<div class="c" style="left:355.45px;top:782.05px;width:22.80px;height:22.80px;background:#5b53a4"></div>
<div class="c" style="left:381.07px;top:782.05px;width:22.80px;height:22.80px;background:#496aaf"></div>
<div class="c" style="left:406.69px;top:782.05px;width:22.80px;height:22.80px;background:#4d65ad"></div>
<div class="c" style="left:432.31px;top:782.05px;width:22.80px;height:22.80px;background:#496aaf"></div>
<div class="c" style="left:457.93px;top:782.05px;width:22.80px;height:22.80px;background:#496aaf"></div>
<div class="c" style="left:483.55px;top:782.05px;width:22.80px;height:22.80px;background:#5956a5"></div>
<div class="c" style="left:509.17px;top:782.05px;width:22.80px;height:22.80px;background:#525fa9"></div>
<div class="c" style="left:534.79px;top:782.05px;width:22.80px;height:22.80px;background:#4175b4"></div>
<div class="c" style="left:48.01px;top:807.67px;width:22.80px;height:22.80px;background:#60bba8"></div>
<div class="c" style="left:73.63px;top:807.67px;width:22.80px;height:22.80px;background:#3b7cb7"></div>
<div class="c" style="left:99.25px;top:807.67px;width:22.80px;height:22.80px;background:#3b7cb7"></div>
<div class="c" style="left:124.87px;top:807.67px;width:22.80px;height:22.80px;background:#3387bc"></div>
<div class="c" style="left:150.49px;top:807.67px;width:22.80px;height:22.80px;background:#525fa9"></div>
<div class="c" style="left:176.11px;top:807.67px;width:22.80px;height:22.80px;background:#4471b2"></div>
<div class="c" style="left:201.73px;top:807.67px;width:22.80px;height:22.80px;background:#3387bc"></div>
<div class="c" style="left:227.35px;top:807.67px;width:22.80px;height:22.80px;background:#50a9af"></div>
<div class="c" style="left:252.97px;top:807.67px;width:22.80px;height:22.80px;background:#4d65ad"></div>
<div class="c" style="left:278.59px;top:807.67px;width:22.80px;height:22.80px;background:#4ba4b1"></div>
<div class="c" style="left:304.21px;top:807.67px;width:22.80px;height:22.80px;background:#89d0a4"></div>
<div class="c" style="left:329.83px;top:807.67px;width:22.80px;height:22.80px;background:#3682ba"></div>
<div class="c" style="left:355.45px;top:807.67px;width:22.80px;height:22.80px;background:#4d65ad"></div>
<div class="c" style="left:381.07px;top:807.67px;width:22.80px;height:22.80px;background:#3b92b9"></div>
<div class="c" style="left:406.69px;top:807.67px;width:22.80px;height:22.80px;background:#3682ba"></div>
<div class="c" style="left:432.31px;top:807.67px;width:22.80px;height:22.80px;background:#4199b6"></div>
<div class="c" style="left:457.93px;top:807.67px;width:22.80px;height:22.80px;background:#3b92b9"></div>
<div class="c" style="left:483.55px;top:807.67px;width:22.80px;height:22.80px;background:#525fa9"></div>
<div class="c" style="left:509.17px;top:807.67px;width:22.80px;height:22.80px;background:#3387bc"></div>
<div class="c" style="left:534.79px;top:807.67px;width:22.80px;height:22.80px;background:#5cb7aa"></div>
<div class="c" style="left:48.01px;top:833.29px;width:22.80px;height:22.80px;background:#fffcba"></div>
<div class="c" style="left:73.63px;top:833.29px;width:22.80px;height:22.80px;background:#56b0ad"></div>
<div class="c" style="left:99.25px;top:833.29px;width:22.80px;height:22.80px;background:#4ba4b1"></div>
<div class="c" style="left:124.87px;top:833.29px;width:22.80px;height:22.80px;background:#66c2a5"></div>
<div class="c" style="left:150.49px;top:833.29px;width:22.80px;height:22.80px;background:#4471b2"></div>
<div class="c" style="left:176.11px;top:833.29px;width:22.80px;height:22.80px;background:#4199b6"></div>
<div class="c" style="left:201.73px;top:833.29px;width:22.80px;height:22.80px;background:#74c7a5"></div>
<div class="c" style="left:227.35px;top:833.29px;width:22.80px;height:22.80px;background:#daf09a"></div>
<div class="c" style="left:252.97px;top:833.29px;width:22.80px;height:22.80px;background:#3b7cb7"></div>
<div class="c" style="left:278.59px;top:833.29px;width:22.80px;height:22.80px;background:#ebf7a0"></div>
<div class="c" style="left:304.21px;top:833.29px;width:22.80px;height:22.80px;background:#fdc372"></div>
<div class="c" style="left:329.83px;top:833.29px;width:22.80px;height:22.80px;background:#56b0ad"></div>
<div class="c" style="left:355.45px;top:833.29px;width:22.80px;height:22.80px;background:#3682ba"></div>
<div class="c" style="left:381.07px;top:833.29px;width:22.80px;height:22.80px;background:#8fd2a4"></div>
<div class="c" style="left:406.69px;top:833.29px;width:22.80px;height:22.80px;background:#60bba8"></div>
<div class="c" style="left:432.31px;top:833.29px;width:22.80px;height:22.80px;background:#97d5a4"></div>
<div class="c" style="left:457.93px;top:833.29px;width:22.80px;height:22.80px;background:#9cd7a4"></div>
<div class="c" style="left:483.55px;top:833.29px;width:22.80px;height:22.80px;background:#4175b4"></div>
<div class="c" style="left:509.17px;top:833.29px;width:22.80px;height:22.80px;background:#5cb7aa"></div>
<div class="c" style="left:534.79px;top:833.29px;width:22.80px;height:22.80px;background:#fff8b4"></div>
<div class="tk" style="left:59.36px;top:341.60px;width:0.9px;height:3px"></div>
<div class="cl" style="right:625.59px;bottom:1097.70px">ALA</div>
<div class="tk" style="left:43.30px;top:357.91px;width:3.3px;height:0.9px"></div>
<div class="rl" style="left:0px;width:39.50px;top:353.71px">ALA</div>
<div class="tk" style="left:84.98px;top:341.60px;width:0.9px;height:3px"></div>
<div class="cl" style="right:599.97px;bottom:1097.70px">ARG</div>
<div class="tk" style="left:43.30px;top:383.53px;width:3.3px;height:0.9px"></div>
<div class="rl" style="left:0px;width:39.50px;top:379.33px">ARG</div>
<div class="tk" style="left:110.60px;top:341.60px;width:0.9px;height:3px"></div>
<div class="cl" style="right:574.35px;bottom:1097.70px">ASN</div>
<div class="tk" style="left:43.30px;top:409.15px;width:3.3px;height:0.9px"></div>
<div class="rl" style="left:0px;width:39.50px;top:404.95px">ASN</div>
<div class="tk" style="left:136.22px;top:341.60px;width:0.9px;height:3px"></div>
<div class="cl" style="right:548.73px;bottom:1097.70px">ASP</div>
<div class="tk" style="left:43.30px;top:434.77px;width:3.3px;height:0.9px"></div>
<div class="rl" style="left:0px;width:39.50px;top:430.57px">ASP</div>
<div class="tk" style="left:161.84px;top:341.60px;width:0.9px;height:3px"></div>
<div class="cl" style="right:523.11px;bottom:1097.70px">CYS</div>
<div class="tk" style="left:43.30px;top:460.39px;width:3.3px;height:0.9px"></div>
<div class="rl" style="left:0px;width:39.50px;top:456.19px">CYS</div>
<div class="tk" style="left:187.46px;top:341.60px;width:0.9px;height:3px"></div>
<div class="cl" style="right:497.49px;bottom:1097.70px">GLN</div>
<div class="tk" style="left:43.30px;top:486.01px;width:3.3px;height:0.9px"></div>
<div class="rl" style="left:0px;width:39.50px;top:481.81px">GLN</div>
<div class="tk" style="left:213.08px;top:341.60px;width:0.9px;height:3px"></div>
<div class="cl" style="right:471.87px;bottom:1097.70px">GLU</div>
<div class="tk" style="left:43.30px;top:511.63px;width:3.3px;height:0.9px"></div>
<div class="rl" style="left:0px;width:39.50px;top:507.43px">GLU</div>
<div class="tk" style="left:238.70px;top:341.60px;width:0.9px;height:3px"></div>
<div class="cl" style="right:446.25px;bottom:1097.70px">GLY</div>
<div class="tk" style="left:43.30px;top:537.25px;width:3.3px;height:0.9px"></div>
<div class="rl" style="left:0px;width:39.50px;top:533.05px">GLY</div>
<div class="tk" style="left:264.32px;top:341.60px;width:0.9px;height:3px"></div>
<div class="cl" style="right:420.63px;bottom:1097.70px">HIS</div>
<div class="tk" style="left:43.30px;top:562.87px;width:3.3px;height:0.9px"></div>
<div class="rl" style="left:0px;width:39.50px;top:558.67px">HIS</div>
<div class="tk" style="left:289.94px;top:341.60px;width:0.9px;height:3px"></div>
<div class="cl" style="right:395.01px;bottom:1097.70px">ILE</div>
<div class="tk" style="left:43.30px;top:588.49px;width:3.3px;height:0.9px"></div>
<div class="rl" style="left:0px;width:39.50px;top:584.29px">ILE</div>
<div class="tk" style="left:315.56px;top:341.60px;width:0.9px;height:3px"></div>
<div class="cl" style="right:369.39px;bottom:1097.70px">LEU</div>
<div class="tk" style="left:43.30px;top:614.11px;width:3.3px;height:0.9px"></div>
<div class="rl" style="left:0px;width:39.50px;top:609.91px">LEU</div>
<div class="tk" style="left:341.18px;top:341.60px;width:0.9px;height:3px"></div>
<div class="cl" style="right:343.77px;bottom:1097.70px">LYS</div>
<div class="tk" style="left:43.30px;top:639.73px;width:3.3px;height:0.9px"></div>
<div class="rl" style="left:0px;width:39.50px;top:635.53px">LYS</div>
<div class="tk" style="left:366.80px;top:341.60px;width:0.9px;height:3px"></div>
<div class="cl" style="right:318.15px;bottom:1097.70px">MET</div>
<div class="tk" style="left:43.30px;top:665.35px;width:3.3px;height:0.9px"></div>
<div class="rl" style="left:0px;width:39.50px;top:661.15px">MET</div>
<div class="tk" style="left:392.42px;top:341.60px;width:0.9px;height:3px"></div>
<div class="cl" style="right:292.53px;bottom:1097.70px">PHE</div>
<div class="tk" style="left:43.30px;top:690.97px;width:3.3px;height:0.9px"></div>
<div class="rl" style="left:0px;width:39.50px;top:686.77px">PHE</div>
<div class="tk" style="left:418.04px;top:341.60px;width:0.9px;height:3px"></div>
<div class="cl" style="right:266.91px;bottom:1097.70px">PRO</div>
<div class="tk" style="left:43.30px;top:716.59px;width:3.3px;height:0.9px"></div>
<div class="rl" style="left:0px;width:39.50px;top:712.39px">PRO</div>
<div class="tk" style="left:443.66px;top:341.60px;width:0.9px;height:3px"></div>
<div class="cl" style="right:241.29px;bottom:1097.70px">SER</div>
<div class="tk" style="left:43.30px;top:742.21px;width:3.3px;height:0.9px"></div>
<div class="rl" style="left:0px;width:39.50px;top:738.01px">SER</div>
<div class="tk" style="left:469.28px;top:341.60px;width:0.9px;height:3px"></div>
<div class="cl" style="right:215.67px;bottom:1097.70px">THR</div>
<div class="tk" style="left:43.30px;top:767.83px;width:3.3px;height:0.9px"></div>
<div class="rl" style="left:0px;width:39.50px;top:763.63px">THR</div>
<div class="tk" style="left:494.90px;top:341.60px;width:0.9px;height:3px"></div>
<div class="cl" style="right:190.05px;bottom:1097.70px">TRP</div>
<div class="tk" style="left:43.30px;top:793.45px;width:3.3px;height:0.9px"></div>
<div class="rl" style="left:0px;width:39.50px;top:789.25px">TRP</div>
<div class="tk" style="left:520.52px;top:341.60px;width:0.9px;height:3px"></div>
<div class="cl" style="right:164.43px;bottom:1097.70px">TYR</div>
<div class="tk" style="left:43.30px;top:819.07px;width:3.3px;height:0.9px"></div>
<div class="rl" style="left:0px;width:39.50px;top:814.87px">TYR</div>
<div class="tk" style="left:546.14px;top:341.60px;width:0.9px;height:3px"></div>
<div class="cl" style="right:138.81px;bottom:1097.70px">VAL</div>
<div class="tk" style="left:43.30px;top:844.69px;width:3.3px;height:0.9px"></div>
<div class="rl" style="left:0px;width:39.50px;top:840.49px">VAL</div>
<div class="a" style="left:621.40px;top:345.05px;width:26.40px;height:512.55px;background:linear-gradient(to bottom,#9e0142 0.0%,#b81e48 5.0%,#d43d4f 10.0%,#e45549 15.0%,#f46d43 20.0%,#f88c51 25.0%,#fdad60 30.0%,#fdc776 35.0%,#fee08b 40.0%,#fff0a6 45.0%,#fffebe 50.0%,#f3faac 55.0%,#e6f598 60.0%,#c8e99e 65.0%,#aadca4 70.0%,#89d0a4 75.0%,#66c2a5 80.0%,#4ba4b1 85.0%,#3387bc 90.0%,#496aaf 95.0%,#5e4fa2 100.0%);border:0.8px solid #333"></div>
<div class="tk" style="left:647.80px;top:398.35px;width:3px;height:0.9px"></div>
<div class="t n" style="left:654.70px;top:394.80px">0.014</div>
<div class="tk" style="left:647.80px;top:465.15px;width:3px;height:0.9px"></div>
<div class="t n" style="left:654.70px;top:461.60px">0.012</div>
<div class="tk" style="left:647.80px;top:531.95px;width:3px;height:0.9px"></div>
<div class="t n" style="left:654.70px;top:528.40px">0.010</div>
<div class="tk" style="left:647.80px;top:598.75px;width:3px;height:0.9px"></div>
<div class="t n" style="left:654.70px;top:595.20px">0.008</div>
<div class="tk" style="left:647.80px;top:665.55px;width:3px;height:0.9px"></div>
<div class="t n" style="left:654.70px;top:662.00px">0.006</div>
<div class="tk" style="left:647.80px;top:732.45px;width:3px;height:0.9px"></div>
<div class="t n" style="left:654.70px;top:728.90px">0.004</div>
<div class="tk" style="left:647.80px;top:799.35px;width:3px;height:0.9px"></div>
<div class="t n" style="left:654.70px;top:795.80px">0.002</div>
<div class="pl" style="left:1.0px;top:890.1px">c.</div>
<div class="c" style="left:58.41px;top:925.90px;width:22.40px;height:22.40px;background:#6bc4a5"></div>
<div class="c" style="left:83.67px;top:925.90px;width:22.40px;height:22.40px;background:#3b7cb7"></div>
<div class="c" style="left:108.94px;top:925.90px;width:22.40px;height:22.40px;background:#4175b4"></div>
<div class="c" style="left:134.22px;top:925.90px;width:22.40px;height:22.40px;background:#4471b2"></div>
<div class="c" style="left:159.49px;top:925.90px;width:22.40px;height:22.40px;background:#56b0ad"></div>
<div class="c" style="left:184.75px;top:925.90px;width:22.40px;height:22.40px;background:#3b7cb7"></div>
<div class="c" style="left:210.03px;top:925.90px;width:22.40px;height:22.40px;background:#4471b2"></div>
<div class="c" style="left:235.29px;top:925.90px;width:22.40px;height:22.40px;background:#4ba4b1"></div>
<div class="c" style="left:260.56px;top:925.90px;width:22.40px;height:22.40px;background:#3387bc"></div>
<div class="c" style="left:285.83px;top:925.90px;width:22.40px;height:22.40px;background:#56b0ad"></div>
<div class="c" style="left:311.10px;top:925.90px;width:22.40px;height:22.40px;background:#5cb7aa"></div>
<div class="c" style="left:336.37px;top:925.90px;width:22.40px;height:22.40px;background:#4d65ad"></div>
<div class="c" style="left:361.65px;top:925.90px;width:22.40px;height:22.40px;background:#5cb7aa"></div>
<div class="c" style="left:386.92px;top:925.90px;width:22.40px;height:22.40px;background:#56b0ad"></div>
<div class="c" style="left:412.19px;top:925.90px;width:22.40px;height:22.40px;background:#3682ba"></div>
<div class="c" style="left:437.45px;top:925.90px;width:22.40px;height:22.40px;background:#378ebb"></div>
<div class="c" style="left:462.72px;top:925.90px;width:22.40px;height:22.40px;background:#3b92b9"></div>
<div class="c" style="left:487.99px;top:925.90px;width:22.40px;height:22.40px;background:#459eb4"></div>
<div class="c" style="left:513.26px;top:925.90px;width:22.40px;height:22.40px;background:#4199b6"></div>
<div class="c" style="left:538.53px;top:925.90px;width:22.40px;height:22.40px;background:#60bba8"></div>
<div class="c" style="left:58.41px;top:951.17px;width:22.40px;height:22.40px;background:#3b7cb7"></div>
<div class="c" style="left:83.67px;top:951.17px;width:22.40px;height:22.40px;background:#4471b2"></div>
<div class="c" style="left:108.94px;top:951.17px;width:22.40px;height:22.40px;background:#4471b2"></div>
<div class="c" style="left:134.22px;top:951.17px;width:22.40px;height:22.40px;background:#378ebb"></div>
<div class="c" style="left:159.49px;top:951.17px;width:22.40px;height:22.40px;background:#3b7cb7"></div>
<div class="c" style="left:184.75px;top:951.17px;width:22.40px;height:22.40px;background:#4471b2"></div>
<div class="c" style="left:210.03px;top:951.17px;width:22.40px;height:22.40px;background:#3387bc"></div>
<div class="c" style="left:235.29px;top:951.17px;width:22.40px;height:22.40px;background:#3682ba"></div>
<div class="c" style="left:260.56px;top:951.17px;width:22.40px;height:22.40px;background:#4175b4"></div>
<div class="c" style="left:285.83px;top:951.17px;width:22.40px;height:22.40px;background:#4471b2"></div>
<div class="c" style="left:311.10px;top:951.17px;width:22.40px;height:22.40px;background:#4471b2"></div>
<div class="c" style="left:336.37px;top:951.17px;width:22.40px;height:22.40px;background:#5b53a4"></div>
<div class="c" style="left:361.65px;top:951.17px;width:22.40px;height:22.40px;background:#4471b2"></div>
<div class="c" style="left:386.92px;top:951.17px;width:22.40px;height:22.40px;background:#4471b2"></div>
<div class="c" style="left:412.19px;top:951.17px;width:22.40px;height:22.40px;background:#4471b2"></div>
<div class="c" style="left:437.45px;top:951.17px;width:22.40px;height:22.40px;background:#4471b2"></div>
<div class="c" style="left:462.72px;top:951.17px;width:22.40px;height:22.40px;background:#496aaf"></div>
<div class="c" style="left:487.99px;top:951.17px;width:22.40px;height:22.40px;background:#4175b4"></div>
<div class="c" style="left:513.26px;top:951.17px;width:22.40px;height:22.40px;background:#4175b4"></div>
<div class="c" style="left:538.53px;top:951.17px;width:22.40px;height:22.40px;background:#4471b2"></div>
<div class="c" style="left:58.41px;top:976.44px;width:22.40px;height:22.40px;background:#4175b4"></div>
<div class="c" style="left:83.67px;top:976.44px;width:22.40px;height:22.40px;background:#4471b2"></div>
<div class="c" style="left:108.94px;top:976.44px;width:22.40px;height:22.40px;background:#4199b6"></div>
<div class="c" style="left:134.22px;top:976.44px;width:22.40px;height:22.40px;background:#3b7cb7"></div>
<div class="c" style="left:159.49px;top:976.44px;width:22.40px;height:22.40px;background:#378ebb"></div>
<div class="c" style="left:184.75px;top:976.44px;width:22.40px;height:22.40px;background:#4175b4"></div>
<div class="c" style="left:210.03px;top:976.44px;width:22.40px;height:22.40px;background:#4d65ad"></div>
<div class="c" style="left:235.29px;top:976.44px;width:22.40px;height:22.40px;background:#3682ba"></div>
<div class="c" style="left:260.56px;top:976.44px;width:22.40px;height:22.40px;background:#3b7cb7"></div>
<div class="c" style="left:285.83px;top:976.44px;width:22.40px;height:22.40px;background:#3682ba"></div>
<div class="c" style="left:311.10px;top:976.44px;width:22.40px;height:22.40px;background:#4471b2"></div>
<div class="c" style="left:336.37px;top:976.44px;width:22.40px;height:22.40px;background:#4471b2"></div>
<div class="c" style="left:361.65px;top:976.44px;width:22.40px;height:22.40px;background:#3682ba"></div>
<div class="c" style="left:386.92px;top:976.44px;width:22.40px;height:22.40px;background:#3b7cb7"></div>
<div class="c" style="left:412.19px;top:976.44px;width:22.40px;height:22.40px;background:#4471b2"></div>
<div class="c" style="left:437.45px;top:976.44px;width:22.40px;height:22.40px;background:#3387bc"></div>
<div class="c" style="left:462.72px;top:976.44px;width:22.40px;height:22.40px;background:#3682ba"></div>
<div class="c" style="left:487.99px;top:976.44px;width:22.40px;height:22.40px;background:#3682ba"></div>
<div class="c" style="left:513.26px;top:976.44px;width:22.40px;height:22.40px;background:#378ebb"></div>
<div class="c" style="left:538.53px;top:976.44px;width:22.40px;height:22.40px;background:#4175b4"></div>
<div class="c" style="left:58.41px;top:1001.71px;width:22.40px;height:22.40px;background:#4471b2"></div>
<div class="c" style="left:83.67px;top:1001.71px;width:22.40px;height:22.40px;background:#378ebb"></div>
<div class="c" style="left:108.94px;top:1001.71px;width:22.40px;height:22.40px;background:#3b7cb7"></div>
<div class="c" style="left:134.22px;top:1001.71px;width:22.40px;height:22.40px;background:#4471b2"></div>
<div class="c" style="left:159.49px;top:1001.71px;width:22.40px;height:22.40px;background:#3b7cb7"></div>
<div class="c" style="left:184.75px;top:1001.71px;width:22.40px;height:22.40px;background:#4471b2"></div>
<div class="c" style="left:210.03px;top:1001.71px;width:22.40px;height:22.40px;background:#525fa9"></div>
<div class="c" style="left:235.29px;top:1001.71px;width:22.40px;height:22.40px;background:#3b7cb7"></div>
<div class="c" style="left:260.56px;top:1001.71px;width:22.40px;height:22.40px;background:#3b7cb7"></div>
<div class="c" style="left:285.83px;top:1001.71px;width:22.40px;height:22.40px;background:#4471b2"></div>
<div class="c" style="left:311.10px;top:1001.71px;width:22.40px;height:22.40px;background:#496aaf"></div>
<div class="c" style="left:336.37px;top:1001.71px;width:22.40px;height:22.40px;background:#3b7cb7"></div>
<div class="c" style="left:361.65px;top:1001.71px;width:22.40px;height:22.40px;background:#496aaf"></div>
<div class="c" style="left:386.92px;top:1001.71px;width:22.40px;height:22.40px;background:#4471b2"></div>
<div class="c" style="left:412.19px;top:1001.71px;width:22.40px;height:22.40px;background:#496aaf"></div>
<div class="c" style="left:437.45px;top:1001.71px;width:22.40px;height:22.40px;background:#4471b2"></div>
<div class="c" style="left:462.72px;top:1001.71px;width:22.40px;height:22.40px;background:#4471b2"></div>
<div class="c" style="left:487.99px;top:1001.71px;width:22.40px;height:22.40px;background:#4471b2"></div>
<div class="c" style="left:513.26px;top:1001.71px;width:22.40px;height:22.40px;background:#3b7cb7"></div>
<div class="c" style="left:538.53px;top:1001.71px;width:22.40px;height:22.40px;background:#4471b2"></div>
<div class="c" style="left:58.41px;top:1026.98px;width:22.40px;height:22.40px;background:#56b0ad"></div>
<div class="c" style="left:83.67px;top:1026.98px;width:22.40px;height:22.40px;background:#3b7cb7"></div>
<div class="c" style="left:108.94px;top:1026.98px;width:22.40px;height:22.40px;background:#378ebb"></div>
<div class="c" style="left:134.22px;top:1026.98px;width:22.40px;height:22.40px;background:#3b7cb7"></div>
<div class="c" style="left:159.49px;top:1026.98px;width:22.40px;height:22.40px;background:#9e0142"></div>
<div class="c" style="left:184.75px;top:1026.98px;width:22.40px;height:22.40px;background:#3682ba"></div>
<div class="c" style="left:210.03px;top:1026.98px;width:22.40px;height:22.40px;background:#496aaf"></div>
<div class="c" style="left:235.29px;top:1026.98px;width:22.40px;height:22.40px;background:#66c2a5"></div>
<div class="c" style="left:260.56px;top:1026.98px;width:22.40px;height:22.40px;background:#60bba8"></div>
<div class="c" style="left:285.83px;top:1026.98px;width:22.40px;height:22.40px;background:#79c9a5"></div>
<div class="c" style="left:311.10px;top:1026.98px;width:22.40px;height:22.40px;background:#66c2a5"></div>
<div class="c" style="left:336.37px;top:1026.98px;width:22.40px;height:22.40px;background:#4d65ad"></div>
<div class="c" style="left:361.65px;top:1026.98px;width:22.40px;height:22.40px;background:#81cda5"></div>
<div class="c" style="left:386.92px;top:1026.98px;width:22.40px;height:22.40px;background:#81cda5"></div>
<div class="c" style="left:412.19px;top:1026.98px;width:22.40px;height:22.40px;background:#459eb4"></div>
<div class="c" style="left:437.45px;top:1026.98px;width:22.40px;height:22.40px;background:#50a9af"></div>
<div class="c" style="left:462.72px;top:1026.98px;width:22.40px;height:22.40px;background:#50a9af"></div>
<div class="c" style="left:487.99px;top:1026.98px;width:22.40px;height:22.40px;background:#81cda5"></div>
<div class="c" style="left:513.26px;top:1026.98px;width:22.40px;height:22.40px;background:#5cb7aa"></div>
<div class="c" style="left:538.53px;top:1026.98px;width:22.40px;height:22.40px;background:#74c7a5"></div>
<div class="c" style="left:58.41px;top:1052.25px;width:22.40px;height:22.40px;background:#3b7cb7"></div>
<div class="c" style="left:83.67px;top:1052.25px;width:22.40px;height:22.40px;background:#4471b2"></div>
<div class="c" style="left:108.94px;top:1052.25px;width:22.40px;height:22.40px;background:#4175b4"></div>
<div class="c" style="left:134.22px;top:1052.25px;width:22.40px;height:22.40px;background:#4471b2"></div>
<div class="c" style="left:159.49px;top:1052.25px;width:22.40px;height:22.40px;background:#3682ba"></div>
<div class="c" style="left:184.75px;top:1052.25px;width:22.40px;height:22.40px;background:#378ebb"></div>
<div class="c" style="left:210.03px;top:1052.25px;width:22.40px;height:22.40px;background:#496aaf"></div>
<div class="c" style="left:235.29px;top:1052.25px;width:22.40px;height:22.40px;background:#3b7cb7"></div>
<div class="c" style="left:260.56px;top:1052.25px;width:22.40px;height:22.40px;background:#4175b4"></div>
<div class="c" style="left:285.83px;top:1052.25px;width:22.40px;height:22.40px;background:#4175b4"></div>
<div class="c" style="left:311.10px;top:1052.25px;width:22.40px;height:22.40px;background:#4175b4"></div>
<div class="c" style="left:336.37px;top:1052.25px;width:22.40px;height:22.40px;background:#496aaf"></div>
<div class="c" style="left:361.65px;top:1052.25px;width:22.40px;height:22.40px;background:#3b7cb7"></div>
<div class="c" style="left:386.92px;top:1052.25px;width:22.40px;height:22.40px;background:#4175b4"></div>
<div class="c" style="left:412.19px;top:1052.25px;width:22.40px;height:22.40px;background:#4175b4"></div>
<div class="c" style="left:437.45px;top:1052.25px;width:22.40px;height:22.40px;background:#3b7cb7"></div>
<div class="c" style="left:462.72px;top:1052.25px;width:22.40px;height:22.40px;background:#3b7cb7"></div>
<div class="c" style="left:487.99px;top:1052.25px;width:22.40px;height:22.40px;background:#3682ba"></div>
<div class="c" style="left:513.26px;top:1052.25px;width:22.40px;height:22.40px;background:#3b7cb7"></div>
<div class="c" style="left:538.53px;top:1052.25px;width:22.40px;height:22.40px;background:#4175b4"></div>
<div class="c" style="left:58.41px;top:1077.53px;width:22.40px;height:22.40px;background:#4471b2"></div>
<div class="c" style="left:83.67px;top:1077.53px;width:22.40px;height:22.40px;background:#3387bc"></div>
<div class="c" style="left:108.94px;top:1077.53px;width:22.40px;height:22.40px;background:#4d65ad"></div>
<div class="c" style="left:134.22px;top:1077.53px;width:22.40px;height:22.40px;background:#525fa9"></div>
<div class="c" style="left:159.49px;top:1077.53px;width:22.40px;height:22.40px;background:#496aaf"></div>
<div class="c" style="left:184.75px;top:1077.53px;width:22.40px;height:22.40px;background:#496aaf"></div>
<div class="c" style="left:210.03px;top:1077.53px;width:22.40px;height:22.40px;background:#4d65ad"></div>
<div class="c" style="left:235.29px;top:1077.53px;width:22.40px;height:22.40px;background:#496aaf"></div>
<div class="c" style="left:260.56px;top:1077.53px;width:22.40px;height:22.40px;background:#4471b2"></div>
<div class="c" style="left:285.83px;top:1077.53px;width:22.40px;height:22.40px;background:#496aaf"></div>
<div class="c" style="left:311.10px;top:1077.53px;width:22.40px;height:22.40px;background:#496aaf"></div>
<div class="c" style="left:336.37px;top:1077.53px;width:22.40px;height:22.40px;background:#3b7cb7"></div>
<div class="c" style="left:361.65px;top:1077.53px;width:22.40px;height:22.40px;background:#496aaf"></div>
<div class="c" style="left:386.92px;top:1077.53px;width:22.40px;height:22.40px;background:#4d65ad"></div>
<div class="c" style="left:412.19px;top:1077.53px;width:22.40px;height:22.40px;background:#4d65ad"></div>
<div class="c" style="left:437.45px;top:1077.53px;width:22.40px;height:22.40px;background:#496aaf"></div>
<div class="c" style="left:462.72px;top:1077.53px;width:22.40px;height:22.40px;background:#496aaf"></div>
<div class="c" style="left:487.99px;top:1077.53px;width:22.40px;height:22.40px;background:#496aaf"></div>
<div class="c" style="left:513.26px;top:1077.53px;width:22.40px;height:22.40px;background:#4471b2"></div>
<div class="c" style="left:538.53px;top:1077.53px;width:22.40px;height:22.40px;background:#496aaf"></div>
<div class="c" style="left:58.41px;top:1102.80px;width:22.40px;height:22.40px;background:#4ba4b1"></div>
<div class="c" style="left:83.67px;top:1102.80px;width:22.40px;height:22.40px;background:#3b7cb7"></div>
<div class="c" style="left:108.94px;top:1102.80px;width:22.40px;height:22.40px;background:#3682ba"></div>
<div class="c" style="left:134.22px;top:1102.80px;width:22.40px;height:22.40px;background:#4175b4"></div>
<div class="c" style="left:159.49px;top:1102.80px;width:22.40px;height:22.40px;background:#66c2a5"></div>
<div class="c" style="left:184.75px;top:1102.80px;width:22.40px;height:22.40px;background:#4175b4"></div>
<div class="c" style="left:210.03px;top:1102.80px;width:22.40px;height:22.40px;background:#496aaf"></div>
<div class="c" style="left:235.29px;top:1102.80px;width:22.40px;height:22.40px;background:#56b0ad"></div>
<div class="c" style="left:260.56px;top:1102.80px;width:22.40px;height:22.40px;background:#4199b6"></div>
<div class="c" style="left:285.83px;top:1102.80px;width:22.40px;height:22.40px;background:#4ba4b1"></div>
<div class="c" style="left:311.10px;top:1102.80px;width:22.40px;height:22.40px;background:#459eb4"></div>
<div class="c" style="left:336.37px;top:1102.80px;width:22.40px;height:22.40px;background:#496aaf"></div>
<div class="c" style="left:361.65px;top:1102.80px;width:22.40px;height:22.40px;background:#4ba4b1"></div>
<div class="c" style="left:386.92px;top:1102.80px;width:22.40px;height:22.40px;background:#4ba4b1"></div>
<div class="c" style="left:412.19px;top:1102.80px;width:22.40px;height:22.40px;background:#3b92b9"></div>
<div class="c" style="left:437.45px;top:1102.80px;width:22.40px;height:22.40px;background:#4199b6"></div>
<div class="c" style="left:462.72px;top:1102.80px;width:22.40px;height:22.40px;background:#3b92b9"></div>
<div class="c" style="left:487.99px;top:1102.80px;width:22.40px;height:22.40px;background:#50a9af"></div>
<div class="c" style="left:513.26px;top:1102.80px;width:22.40px;height:22.40px;background:#459eb4"></div>
<div class="c" style="left:538.53px;top:1102.80px;width:22.40px;height:22.40px;background:#50a9af"></div>
<div class="c" style="left:58.41px;top:1128.07px;width:22.40px;height:22.40px;background:#3387bc"></div>
<div class="c" style="left:83.67px;top:1128.07px;width:22.40px;height:22.40px;background:#4471b2"></div>
<div class="c" style="left:108.94px;top:1128.07px;width:22.40px;height:22.40px;background:#3b7cb7"></div>
<div class="c" style="left:134.22px;top:1128.07px;width:22.40px;height:22.40px;background:#3b7cb7"></div>
<div class="c" style="left:159.49px;top:1128.07px;width:22.40px;height:22.40px;background:#60bba8"></div>
<div class="c" style="left:184.75px;top:1128.07px;width:22.40px;height:22.40px;background:#4175b4"></div>
<div class="c" style="left:210.03px;top:1128.07px;width:22.40px;height:22.40px;background:#4471b2"></div>
<div class="c" style="left:235.29px;top:1128.07px;width:22.40px;height:22.40px;background:#3b92b9"></div>
<div class="c" style="left:260.56px;top:1128.07px;width:22.40px;height:22.40px;background:#89d0a4"></div>
<div class="c" style="left:285.83px;top:1128.07px;width:22.40px;height:22.40px;background:#3682ba"></div>
<div class="c" style="left:311.10px;top:1128.07px;width:22.40px;height:22.40px;background:#3387bc"></div>
<div class="c" style="left:336.37px;top:1128.07px;width:22.40px;height:22.40px;background:#555aa7"></div>
<div class="c" style="left:361.65px;top:1128.07px;width:22.40px;height:22.40px;background:#3b92b9"></div>
<div class="c" style="left:386.92px;top:1128.07px;width:22.40px;height:22.40px;background:#3b92b9"></div>
<div class="c" style="left:412.19px;top:1128.07px;width:22.40px;height:22.40px;background:#3682ba"></div>
<div class="c" style="left:437.45px;top:1128.07px;width:22.40px;height:22.40px;background:#3387bc"></div>
<div class="c" style="left:462.72px;top:1128.07px;width:22.40px;height:22.40px;background:#3682ba"></div>
<div class="c" style="left:487.99px;top:1128.07px;width:22.40px;height:22.40px;background:#4199b6"></div>
<div class="c" style="left:513.26px;top:1128.07px;width:22.40px;height:22.40px;background:#3b92b9"></div>
<div class="c" style="left:538.53px;top:1128.07px;width:22.40px;height:22.40px;background:#3387bc"></div>
<div class="c" style="left:58.41px;top:1153.34px;width:22.40px;height:22.40px;background:#56b0ad"></div>
<div class="c" style="left:83.67px;top:1153.34px;width:22.40px;height:22.40px;background:#4471b2"></div>
<div class="c" style="left:108.94px;top:1153.34px;width:22.40px;height:22.40px;background:#3682ba"></div>
<div class="c" style="left:134.22px;top:1153.34px;width:22.40px;height:22.40px;background:#4471b2"></div>
<div class="c" style="left:159.49px;top:1153.34px;width:22.40px;height:22.40px;background:#79c9a5"></div>
<div class="c" style="left:184.75px;top:1153.34px;width:22.40px;height:22.40px;background:#4175b4"></div>
<div class="c" style="left:210.03px;top:1153.34px;width:22.40px;height:22.40px;background:#496aaf"></div>
<div class="c" style="left:235.29px;top:1153.34px;width:22.40px;height:22.40px;background:#4ba4b1"></div>
<div class="c" style="left:260.56px;top:1153.34px;width:22.40px;height:22.40px;background:#3682ba"></div>
<div class="c" style="left:285.83px;top:1153.34px;width:22.40px;height:22.40px;background:#a4daa4"></div>
<div class="c" style="left:311.10px;top:1153.34px;width:22.40px;height:22.40px;background:#81cda5"></div>
<div class="c" style="left:336.37px;top:1153.34px;width:22.40px;height:22.40px;background:#496aaf"></div>
<div class="c" style="left:361.65px;top:1153.34px;width:22.40px;height:22.40px;background:#74c7a5"></div>
<div class="c" style="left:386.92px;top:1153.34px;width:22.40px;height:22.40px;background:#79c9a5"></div>
<div class="c" style="left:412.19px;top:1153.34px;width:22.40px;height:22.40px;background:#3682ba"></div>
<div class="c" style="left:437.45px;top:1153.34px;width:22.40px;height:22.40px;background:#3b92b9"></div>
<div class="c" style="left:462.72px;top:1153.34px;width:22.40px;height:22.40px;background:#459eb4"></div>
<div class="c" style="left:487.99px;top:1153.34px;width:22.40px;height:22.40px;background:#56b0ad"></div>
<div class="c" style="left:513.26px;top:1153.34px;width:22.40px;height:22.40px;background:#50a9af"></div>
<div class="c" style="left:538.53px;top:1153.34px;width:22.40px;height:22.40px;background:#89d0a4"></div>
<div class="c" style="left:58.41px;top:1178.61px;width:22.40px;height:22.40px;background:#5cb7aa"></div>
<div class="c" style="left:83.67px;top:1178.61px;width:22.40px;height:22.40px;background:#4471b2"></div>
<div class="c" style="left:108.94px;top:1178.61px;width:22.40px;height:22.40px;background:#4471b2"></div>
<div class="c" style="left:134.22px;top:1178.61px;width:22.40px;height:22.40px;background:#496aaf"></div>
<div class="c" style="left:159.49px;top:1178.61px;width:22.40px;height:22.40px;background:#66c2a5"></div>
<div class="c" style="left:184.75px;top:1178.61px;width:22.40px;height:22.40px;background:#4175b4"></div>
<div class="c" style="left:210.03px;top:1178.61px;width:22.40px;height:22.40px;background:#496aaf"></div>
<div class="c" style="left:235.29px;top:1178.61px;width:22.40px;height:22.40px;background:#459eb4"></div>
<div class="c" style="left:260.56px;top:1178.61px;width:22.40px;height:22.40px;background:#3387bc"></div>
<div class="c" style="left:285.83px;top:1178.61px;width:22.40px;height:22.40px;background:#81cda5"></div>
<div class="c" style="left:311.10px;top:1178.61px;width:22.40px;height:22.40px;background:#9fd8a4"></div>
<div class="c" style="left:336.37px;top:1178.61px;width:22.40px;height:22.40px;background:#4d65ad"></div>
<div class="c" style="left:361.65px;top:1178.61px;width:22.40px;height:22.40px;background:#60bba8"></div>
<div class="c" style="left:386.92px;top:1178.61px;width:22.40px;height:22.40px;background:#74c7a5"></div>
<div class="c" style="left:412.19px;top:1178.61px;width:22.40px;height:22.40px;background:#3387bc"></div>
<div class="c" style="left:437.45px;top:1178.61px;width:22.40px;height:22.40px;background:#3b92b9"></div>
<div class="c" style="left:462.72px;top:1178.61px;width:22.40px;height:22.40px;background:#4199b6"></div>
<div class="c" style="left:487.99px;top:1178.61px;width:22.40px;height:22.40px;background:#50a9af"></div>
<div class="c" style="left:513.26px;top:1178.61px;width:22.40px;height:22.40px;background:#4ba4b1"></div>
<div class="c" style="left:538.53px;top:1178.61px;width:22.40px;height:22.40px;background:#74c7a5"></div>
<div class="c" style="left:58.41px;top:1203.88px;width:22.40px;height:22.40px;background:#4d65ad"></div>
<div class="c" style="left:83.67px;top:1203.88px;width:22.40px;height:22.40px;background:#5b53a4"></div>
<div class="c" style="left:108.94px;top:1203.88px;width:22.40px;height:22.40px;background:#4471b2"></div>
<div class="c" style="left:134.22px;top:1203.88px;width:22.40px;height:22.40px;background:#3b7cb7"></div>
<div class="c" style="left:159.49px;top:1203.88px;width:22.40px;height:22.40px;background:#4d65ad"></div>
<div class="c" style="left:184.75px;top:1203.88px;width:22.40px;height:22.40px;background:#496aaf"></div>
<div class="c" style="left:210.03px;top:1203.88px;width:22.40px;height:22.40px;background:#3b7cb7"></div>
<div class="c" style="left:235.29px;top:1203.88px;width:22.40px;height:22.40px;background:#496aaf"></div>
<div class="c" style="left:260.56px;top:1203.88px;width:22.40px;height:22.40px;background:#555aa7"></div>
<div class="c" style="left:285.83px;top:1203.88px;width:22.40px;height:22.40px;background:#496aaf"></div>
<div class="c" style="left:311.10px;top:1203.88px;width:22.40px;height:22.40px;background:#4d65ad"></div>
<div class="c" style="left:336.37px;top:1203.88px;width:22.40px;height:22.40px;background:#496aaf"></div>
<div class="c" style="left:361.65px;top:1203.88px;width:22.40px;height:22.40px;background:#4d65ad"></div>
<div class="c" style="left:386.92px;top:1203.88px;width:22.40px;height:22.40px;background:#525fa9"></div>
<div class="c" style="left:412.19px;top:1203.88px;width:22.40px;height:22.40px;background:#525fa9"></div>
<div class="c" style="left:437.45px;top:1203.88px;width:22.40px;height:22.40px;background:#4d65ad"></div>
<div class="c" style="left:462.72px;top:1203.88px;width:22.40px;height:22.40px;background:#4d65ad"></div>
<div class="c" style="left:487.99px;top:1203.88px;width:22.40px;height:22.40px;background:#555aa7"></div>
<div class="c" style="left:513.26px;top:1203.88px;width:22.40px;height:22.40px;background:#496aaf"></div>
<div class="c" style="left:538.53px;top:1203.88px;width:22.40px;height:22.40px;background:#4d65ad"></div>
<div class="c" style="left:58.41px;top:1229.14px;width:22.40px;height:22.40px;background:#5cb7aa"></div>
<div class="c" style="left:83.67px;top:1229.14px;width:22.40px;height:22.40px;background:#4471b2"></div>
<div class="c" style="left:108.94px;top:1229.14px;width:22.40px;height:22.40px;background:#3682ba"></div>
<div class="c" style="left:134.22px;top:1229.14px;width:22.40px;height:22.40px;background:#496aaf"></div>
<div class="c" style="left:159.49px;top:1229.14px;width:22.40px;height:22.40px;background:#81cda5"></div>
<div class="c" style="left:184.75px;top:1229.14px;width:22.40px;height:22.40px;background:#3b7cb7"></div>
<div class="c" style="left:210.03px;top:1229.14px;width:22.40px;height:22.40px;background:#496aaf"></div>
<div class="c" style="left:235.29px;top:1229.14px;width:22.40px;height:22.40px;background:#4ba4b1"></div>
<div class="c" style="left:260.56px;top:1229.14px;width:22.40px;height:22.40px;background:#3b92b9"></div>
<div class="c" style="left:285.83px;top:1229.14px;width:22.40px;height:22.40px;background:#74c7a5"></div>
<div class="c" style="left:311.10px;top:1229.14px;width:22.40px;height:22.40px;background:#60bba8"></div>
<div class="c" style="left:336.37px;top:1229.14px;width:22.40px;height:22.40px;background:#4d65ad"></div>
<div class="c" style="left:361.65px;top:1229.14px;width:22.40px;height:22.40px;background:#eef8a4"></div>
<div class="c" style="left:386.92px;top:1229.14px;width:22.40px;height:22.40px;background:#79c9a5"></div>
<div class="c" style="left:412.19px;top:1229.14px;width:22.40px;height:22.40px;background:#378ebb"></div>
<div class="c" style="left:437.45px;top:1229.14px;width:22.40px;height:22.40px;background:#3b92b9"></div>
<div class="c" style="left:462.72px;top:1229.14px;width:22.40px;height:22.40px;background:#4199b6"></div>
<div class="c" style="left:487.99px;top:1229.14px;width:22.40px;height:22.40px;background:#66c2a5"></div>
<div class="c" style="left:513.26px;top:1229.14px;width:22.40px;height:22.40px;background:#56b0ad"></div>
<div class="c" style="left:538.53px;top:1229.14px;width:22.40px;height:22.40px;background:#66c2a5"></div>
<div class="c" style="left:58.41px;top:1254.41px;width:22.40px;height:22.40px;background:#56b0ad"></div>
<div class="c" style="left:83.67px;top:1254.41px;width:22.40px;height:22.40px;background:#4471b2"></div>
<div class="c" style="left:108.94px;top:1254.41px;width:22.40px;height:22.40px;background:#3b7cb7"></div>
<div class="c" style="left:134.22px;top:1254.41px;width:22.40px;height:22.40px;background:#4471b2"></div>
<div class="c" style="left:159.49px;top:1254.41px;width:22.40px;height:22.40px;background:#81cda5"></div>
<div class="c" style="left:184.75px;top:1254.41px;width:22.40px;height:22.40px;background:#4175b4"></div>
<div class="c" style="left:210.03px;top:1254.41px;width:22.40px;height:22.40px;background:#4d65ad"></div>
<div class="c" style="left:235.29px;top:1254.41px;width:22.40px;height:22.40px;background:#4ba4b1"></div>
<div class="c" style="left:260.56px;top:1254.41px;width:22.40px;height:22.40px;background:#3b92b9"></div>
<div class="c" style="left:285.83px;top:1254.41px;width:22.40px;height:22.40px;background:#79c9a5"></div>
<div class="c" style="left:311.10px;top:1254.41px;width:22.40px;height:22.40px;background:#74c7a5"></div>
<div class="c" style="left:336.37px;top:1254.41px;width:22.40px;height:22.40px;background:#525fa9"></div>
<div class="c" style="left:361.65px;top:1254.41px;width:22.40px;height:22.40px;background:#79c9a5"></div>
<div class="c" style="left:386.92px;top:1254.41px;width:22.40px;height:22.40px;background:#9cd7a4"></div>
<div class="c" style="left:412.19px;top:1254.41px;width:22.40px;height:22.40px;background:#378ebb"></div>
<div class="c" style="left:437.45px;top:1254.41px;width:22.40px;height:22.40px;background:#3b92b9"></div>
<div class="c" style="left:462.72px;top:1254.41px;width:22.40px;height:22.40px;background:#4199b6"></div>
<div class="c" style="left:487.99px;top:1254.41px;width:22.40px;height:22.40px;background:#6bc4a5"></div>
<div class="c" style="left:513.26px;top:1254.41px;width:22.40px;height:22.40px;background:#60bba8"></div>
<div class="c" style="left:538.53px;top:1254.41px;width:22.40px;height:22.40px;background:#74c7a5"></div>
<div class="c" style="left:58.41px;top:1279.68px;width:22.40px;height:22.40px;background:#3682ba"></div>
<div class="c" style="left:83.67px;top:1279.68px;width:22.40px;height:22.40px;background:#4471b2"></div>
<div class="c" style="left:108.94px;top:1279.68px;width:22.40px;height:22.40px;background:#4471b2"></div>
<div class="c" style="left:134.22px;top:1279.68px;width:22.40px;height:22.40px;background:#496aaf"></div>
<div class="c" style="left:159.49px;top:1279.68px;width:22.40px;height:22.40px;background:#459eb4"></div>
<div class="c" style="left:184.75px;top:1279.68px;width:22.40px;height:22.40px;background:#4175b4"></div>
<div class="c" style="left:210.03px;top:1279.68px;width:22.40px;height:22.40px;background:#4d65ad"></div>
<div class="c" style="left:235.29px;top:1279.68px;width:22.40px;height:22.40px;background:#3b92b9"></div>
<div class="c" style="left:260.56px;top:1279.68px;width:22.40px;height:22.40px;background:#3682ba"></div>
<div class="c" style="left:285.83px;top:1279.68px;width:22.40px;height:22.40px;background:#3682ba"></div>
<div class="c" style="left:311.10px;top:1279.68px;width:22.40px;height:22.40px;background:#3387bc"></div>
<div class="c" style="left:336.37px;top:1279.68px;width:22.40px;height:22.40px;background:#525fa9"></div>
<div class="c" style="left:361.65px;top:1279.68px;width:22.40px;height:22.40px;background:#378ebb"></div>
<div class="c" style="left:386.92px;top:1279.68px;width:22.40px;height:22.40px;background:#378ebb"></div>
<div class="c" style="left:412.19px;top:1279.68px;width:22.40px;height:22.40px;background:#459eb4"></div>
<div class="c" style="left:437.45px;top:1279.68px;width:22.40px;height:22.40px;background:#3b7cb7"></div>
<div class="c" style="left:462.72px;top:1279.68px;width:22.40px;height:22.40px;background:#3b7cb7"></div>
<div class="c" style="left:487.99px;top:1279.68px;width:22.40px;height:22.40px;background:#4199b6"></div>
<div class="c" style="left:513.26px;top:1279.68px;width:22.40px;height:22.40px;background:#3b92b9"></div>
<div class="c" style="left:538.53px;top:1279.68px;width:22.40px;height:22.40px;background:#3387bc"></div>
<div class="c" style="left:58.41px;top:1304.95px;width:22.40px;height:22.40px;background:#378ebb"></div>
<div class="c" style="left:83.67px;top:1304.95px;width:22.40px;height:22.40px;background:#4471b2"></div>
<div class="c" style="left:108.94px;top:1304.95px;width:22.40px;height:22.40px;background:#3387bc"></div>
<div class="c" style="left:134.22px;top:1304.95px;width:22.40px;height:22.40px;background:#4471b2"></div>
<div class="c" style="left:159.49px;top:1304.95px;width:22.40px;height:22.40px;background:#50a9af"></div>
<div class="c" style="left:184.75px;top:1304.95px;width:22.40px;height:22.40px;background:#3b7cb7"></div>
<div class="c" style="left:210.03px;top:1304.95px;width:22.40px;height:22.40px;background:#496aaf"></div>
<div class="c" style="left:235.29px;top:1304.95px;width:22.40px;height:22.40px;background:#4199b6"></div>
<div class="c" style="left:260.56px;top:1304.95px;width:22.40px;height:22.40px;background:#3387bc"></div>
<div class="c" style="left:285.83px;top:1304.95px;width:22.40px;height:22.40px;background:#3b92b9"></div>
<div class="c" style="left:311.10px;top:1304.95px;width:22.40px;height:22.40px;background:#3b92b9"></div>
<div class="c" style="left:336.37px;top:1304.95px;width:22.40px;height:22.40px;background:#4d65ad"></div>
<div class="c" style="left:361.65px;top:1304.95px;width:22.40px;height:22.40px;background:#3b92b9"></div>
<div class="c" style="left:386.92px;top:1304.95px;width:22.40px;height:22.40px;background:#3b92b9"></div>
<div class="c" style="left:412.19px;top:1304.95px;width:22.40px;height:22.40px;background:#3b7cb7"></div>
<div class="c" style="left:437.45px;top:1304.95px;width:22.40px;height:22.40px;background:#4199b6"></div>
<div class="c" style="left:462.72px;top:1304.95px;width:22.40px;height:22.40px;background:#378ebb"></div>
<div class="c" style="left:487.99px;top:1304.95px;width:22.40px;height:22.40px;background:#3b92b9"></div>
<div class="c" style="left:513.26px;top:1304.95px;width:22.40px;height:22.40px;background:#378ebb"></div>
<div class="c" style="left:538.53px;top:1304.95px;width:22.40px;height:22.40px;background:#378ebb"></div>
<div class="c" style="left:58.41px;top:1330.22px;width:22.40px;height:22.40px;background:#3b92b9"></div>
<div class="c" style="left:83.67px;top:1330.22px;width:22.40px;height:22.40px;background:#496aaf"></div>
<div class="c" style="left:108.94px;top:1330.22px;width:22.40px;height:22.40px;background:#3682ba"></div>
<div class="c" style="left:134.22px;top:1330.22px;width:22.40px;height:22.40px;background:#4471b2"></div>
<div class="c" style="left:159.49px;top:1330.22px;width:22.40px;height:22.40px;background:#50a9af"></div>
<div class="c" style="left:184.75px;top:1330.22px;width:22.40px;height:22.40px;background:#3b7cb7"></div>
<div class="c" style="left:210.03px;top:1330.22px;width:22.40px;height:22.40px;background:#496aaf"></div>
<div class="c" style="left:235.29px;top:1330.22px;width:22.40px;height:22.40px;background:#3b92b9"></div>
<div class="c" style="left:260.56px;top:1330.22px;width:22.40px;height:22.40px;background:#3682ba"></div>
<div class="c" style="left:285.83px;top:1330.22px;width:22.40px;height:22.40px;background:#459eb4"></div>
<div class="c" style="left:311.10px;top:1330.22px;width:22.40px;height:22.40px;background:#4199b6"></div>
<div class="c" style="left:336.37px;top:1330.22px;width:22.40px;height:22.40px;background:#4d65ad"></div>
<div class="c" style="left:361.65px;top:1330.22px;width:22.40px;height:22.40px;background:#4199b6"></div>
<div class="c" style="left:386.92px;top:1330.22px;width:22.40px;height:22.40px;background:#4199b6"></div>
<div class="c" style="left:412.19px;top:1330.22px;width:22.40px;height:22.40px;background:#3b7cb7"></div>
<div class="c" style="left:437.45px;top:1330.22px;width:22.40px;height:22.40px;background:#378ebb"></div>
<div class="c" style="left:462.72px;top:1330.22px;width:22.40px;height:22.40px;background:#459eb4"></div>
<div class="c" style="left:487.99px;top:1330.22px;width:22.40px;height:22.40px;background:#3b92b9"></div>
<div class="c" style="left:513.26px;top:1330.22px;width:22.40px;height:22.40px;background:#378ebb"></div>
<div class="c" style="left:538.53px;top:1330.22px;width:22.40px;height:22.40px;background:#459eb4"></div>
<div class="c" style="left:58.41px;top:1355.49px;width:22.40px;height:22.40px;background:#459eb4"></div>
<div class="c" style="left:83.67px;top:1355.49px;width:22.40px;height:22.40px;background:#4175b4"></div>
<div class="c" style="left:108.94px;top:1355.49px;width:22.40px;height:22.40px;background:#3682ba"></div>
<div class="c" style="left:134.22px;top:1355.49px;width:22.40px;height:22.40px;background:#4471b2"></div>
<div class="c" style="left:159.49px;top:1355.49px;width:22.40px;height:22.40px;background:#81cda5"></div>
<div class="c" style="left:184.75px;top:1355.49px;width:22.40px;height:22.40px;background:#3682ba"></div>
<div class="c" style="left:210.03px;top:1355.49px;width:22.40px;height:22.40px;background:#496aaf"></div>
<div class="c" style="left:235.29px;top:1355.49px;width:22.40px;height:22.40px;background:#50a9af"></div>
<div class="c" style="left:260.56px;top:1355.49px;width:22.40px;height:22.40px;background:#4199b6"></div>
<div class="c" style="left:285.83px;top:1355.49px;width:22.40px;height:22.40px;background:#56b0ad"></div>
<div class="c" style="left:311.10px;top:1355.49px;width:22.40px;height:22.40px;background:#50a9af"></div>
<div class="c" style="left:336.37px;top:1355.49px;width:22.40px;height:22.40px;background:#555aa7"></div>
<div class="c" style="left:361.65px;top:1355.49px;width:22.40px;height:22.40px;background:#66c2a5"></div>
<div class="c" style="left:386.92px;top:1355.49px;width:22.40px;height:22.40px;background:#6bc4a5"></div>
<div class="c" style="left:412.19px;top:1355.49px;width:22.40px;height:22.40px;background:#4199b6"></div>
<div class="c" style="left:437.45px;top:1355.49px;width:22.40px;height:22.40px;background:#3b92b9"></div>
<div class="c" style="left:462.72px;top:1355.49px;width:22.40px;height:22.40px;background:#3b92b9"></div>
<div class="c" style="left:487.99px;top:1355.49px;width:22.40px;height:22.40px;background:#aadca4"></div>
<div class="c" style="left:513.26px;top:1355.49px;width:22.40px;height:22.40px;background:#56b0ad"></div>
<div class="c" style="left:538.53px;top:1355.49px;width:22.40px;height:22.40px;background:#56b0ad"></div>
<div class="c" style="left:58.41px;top:1380.76px;width:22.40px;height:22.40px;background:#4199b6"></div>
<div class="c" style="left:83.67px;top:1380.76px;width:22.40px;height:22.40px;background:#4175b4"></div>
<div class="c" style="left:108.94px;top:1380.76px;width:22.40px;height:22.40px;background:#378ebb"></div>
<div class="c" style="left:134.22px;top:1380.76px;width:22.40px;height:22.40px;background:#3b7cb7"></div>
<div class="c" style="left:159.49px;top:1380.76px;width:22.40px;height:22.40px;background:#5cb7aa"></div>
<div class="c" style="left:184.75px;top:1380.76px;width:22.40px;height:22.40px;background:#3b7cb7"></div>
<div class="c" style="left:210.03px;top:1380.76px;width:22.40px;height:22.40px;background:#4471b2"></div>
<div class="c" style="left:235.29px;top:1380.76px;width:22.40px;height:22.40px;background:#459eb4"></div>
<div class="c" style="left:260.56px;top:1380.76px;width:22.40px;height:22.40px;background:#3b92b9"></div>
<div class="c" style="left:285.83px;top:1380.76px;width:22.40px;height:22.40px;background:#50a9af"></div>
<div class="c" style="left:311.10px;top:1380.76px;width:22.40px;height:22.40px;background:#4ba4b1"></div>
<div class="c" style="left:336.37px;top:1380.76px;width:22.40px;height:22.40px;background:#496aaf"></div>
<div class="c" style="left:361.65px;top:1380.76px;width:22.40px;height:22.40px;background:#56b0ad"></div>
<div class="c" style="left:386.92px;top:1380.76px;width:22.40px;height:22.40px;background:#60bba8"></div>
<div class="c" style="left:412.19px;top:1380.76px;width:22.40px;height:22.40px;background:#3b92b9"></div>
<div class="c" style="left:437.45px;top:1380.76px;width:22.40px;height:22.40px;background:#378ebb"></div>
<div class="c" style="left:462.72px;top:1380.76px;width:22.40px;height:22.40px;background:#378ebb"></div>
<div class="c" style="left:487.99px;top:1380.76px;width:22.40px;height:22.40px;background:#56b0ad"></div>
<div class="c" style="left:513.26px;top:1380.76px;width:22.40px;height:22.40px;background:#56b0ad"></div>
<div class="c" style="left:538.53px;top:1380.76px;width:22.40px;height:22.40px;background:#4ba4b1"></div>
<div class="c" style="left:58.41px;top:1406.03px;width:22.40px;height:22.40px;background:#60bba8"></div>
<div class="c" style="left:83.67px;top:1406.03px;width:22.40px;height:22.40px;background:#4471b2"></div>
<div class="c" style="left:108.94px;top:1406.03px;width:22.40px;height:22.40px;background:#4175b4"></div>
<div class="c" style="left:134.22px;top:1406.03px;width:22.40px;height:22.40px;background:#4471b2"></div>
<div class="c" style="left:159.49px;top:1406.03px;width:22.40px;height:22.40px;background:#74c7a5"></div>
<div class="c" style="left:184.75px;top:1406.03px;width:22.40px;height:22.40px;background:#4175b4"></div>
<div class="c" style="left:210.03px;top:1406.03px;width:22.40px;height:22.40px;background:#496aaf"></div>
<div class="c" style="left:235.29px;top:1406.03px;width:22.40px;height:22.40px;background:#50a9af"></div>
<div class="c" style="left:260.56px;top:1406.03px;width:22.40px;height:22.40px;background:#3387bc"></div>
<div class="c" style="left:285.83px;top:1406.03px;width:22.40px;height:22.40px;background:#89d0a4"></div>
<div class="c" style="left:311.10px;top:1406.03px;width:22.40px;height:22.40px;background:#74c7a5"></div>
<div class="c" style="left:336.37px;top:1406.03px;width:22.40px;height:22.40px;background:#4d65ad"></div>
<div class="c" style="left:361.65px;top:1406.03px;width:22.40px;height:22.40px;background:#66c2a5"></div>
<div class="c" style="left:386.92px;top:1406.03px;width:22.40px;height:22.40px;background:#74c7a5"></div>
<div class="c" style="left:412.19px;top:1406.03px;width:22.40px;height:22.40px;background:#3387bc"></div>
<div class="c" style="left:437.45px;top:1406.03px;width:22.40px;height:22.40px;background:#378ebb"></div>
<div class="c" style="left:462.72px;top:1406.03px;width:22.40px;height:22.40px;background:#459eb4"></div>
<div class="c" style="left:487.99px;top:1406.03px;width:22.40px;height:22.40px;background:#56b0ad"></div>
<div class="c" style="left:513.26px;top:1406.03px;width:22.40px;height:22.40px;background:#4ba4b1"></div>
<div class="c" style="left:538.53px;top:1406.03px;width:22.40px;height:22.40px;background:#89d0a4"></div>
<div class="tk" style="left:69.56px;top:920.97px;width:0.9px;height:3px"></div>
<div class="cl" style="right:614.89px;bottom:518.00px">ALA</div>
<div class="tk" style="left:53.67px;top:937.11px;width:3.3px;height:0.9px"></div>
<div class="rl" style="left:0px;width:50.00px;top:932.90px">ALA</div>
<div class="tk" style="left:94.83px;top:920.97px;width:0.9px;height:3px"></div>
<div class="cl" style="right:589.62px;bottom:518.00px">ARG</div>
<div class="tk" style="left:53.67px;top:962.38px;width:3.3px;height:0.9px"></div>
<div class="rl" style="left:0px;width:50.00px;top:958.17px">ARG</div>
<div class="tk" style="left:120.09px;top:920.97px;width:0.9px;height:3px"></div>
<div class="cl" style="right:564.36px;bottom:518.00px">ASN</div>
<div class="tk" style="left:53.67px;top:987.64px;width:3.3px;height:0.9px"></div>
<div class="rl" style="left:0px;width:50.00px;top:983.44px">ASN</div>
<div class="tk" style="left:145.36px;top:920.97px;width:0.9px;height:3px"></div>
<div class="cl" style="right:539.09px;bottom:518.00px">ASP</div>
<div class="tk" style="left:53.67px;top:1012.91px;width:3.3px;height:0.9px"></div>
<div class="rl" style="left:0px;width:50.00px;top:1008.71px">ASP</div>
<div class="tk" style="left:170.63px;top:920.97px;width:0.9px;height:3px"></div>
<div class="cl" style="right:513.82px;bottom:518.00px">CYS</div>
<div class="tk" style="left:53.67px;top:1038.18px;width:3.3px;height:0.9px"></div>
<div class="rl" style="left:0px;width:50.00px;top:1033.98px">CYS</div>
<div class="tk" style="left:195.90px;top:920.97px;width:0.9px;height:3px"></div>
<div class="cl" style="right:488.55px;bottom:518.00px">GLN</div>
<div class="tk" style="left:53.67px;top:1063.45px;width:3.3px;height:0.9px"></div>
<div class="rl" style="left:0px;width:50.00px;top:1059.25px">GLN</div>
<div class="tk" style="left:221.17px;top:920.97px;width:0.9px;height:3px"></div>
<div class="cl" style="right:463.27px;bottom:518.00px">GLU</div>
<div class="tk" style="left:53.67px;top:1088.73px;width:3.3px;height:0.9px"></div>
<div class="rl" style="left:0px;width:50.00px;top:1084.53px">GLU</div>
<div class="tk" style="left:246.44px;top:920.97px;width:0.9px;height:3px"></div>
<div class="cl" style="right:438.00px;bottom:518.00px">GLY</div>
<div class="tk" style="left:53.67px;top:1114.00px;width:3.3px;height:0.9px"></div>
<div class="rl" style="left:0px;width:50.00px;top:1109.80px">GLY</div>
<div class="tk" style="left:271.71px;top:920.97px;width:0.9px;height:3px"></div>
<div class="cl" style="right:412.74px;bottom:518.00px">HIS</div>
<div class="tk" style="left:53.67px;top:1139.27px;width:3.3px;height:0.9px"></div>
<div class="rl" style="left:0px;width:50.00px;top:1135.07px">HIS</div>
<div class="tk" style="left:296.98px;top:920.97px;width:0.9px;height:3px"></div>
<div class="cl" style="right:387.47px;bottom:518.00px">ILE</div>
<div class="tk" style="left:53.67px;top:1164.54px;width:3.3px;height:0.9px"></div>
<div class="rl" style="left:0px;width:50.00px;top:1160.34px">ILE</div>
<div class="tk" style="left:322.25px;top:920.97px;width:0.9px;height:3px"></div>
<div class="cl" style="right:362.20px;bottom:518.00px">LEU</div>
<div class="tk" style="left:53.67px;top:1189.81px;width:3.3px;height:0.9px"></div>
<div class="rl" style="left:0px;width:50.00px;top:1185.61px">LEU</div>
<div class="tk" style="left:347.52px;top:920.97px;width:0.9px;height:3px"></div>
<div class="cl" style="right:336.93px;bottom:518.00px">LYS</div>
<div class="tk" style="left:53.67px;top:1215.08px;width:3.3px;height:0.9px"></div>
<div class="rl" style="left:0px;width:50.00px;top:1210.88px">LYS</div>
<div class="tk" style="left:372.80px;top:920.97px;width:0.9px;height:3px"></div>
<div class="cl" style="right:311.65px;bottom:518.00px">MET</div>
<div class="tk" style="left:53.67px;top:1240.35px;width:3.3px;height:0.9px"></div>
<div class="rl" style="left:0px;width:50.00px;top:1236.14px">MET</div>
<div class="tk" style="left:398.06px;top:920.97px;width:0.9px;height:3px"></div>
<div class="cl" style="right:286.38px;bottom:518.00px">PHE</div>
<div class="tk" style="left:53.67px;top:1265.62px;width:3.3px;height:0.9px"></div>
<div class="rl" style="left:0px;width:50.00px;top:1261.41px">PHE</div>
<div class="tk" style="left:423.33px;top:920.97px;width:0.9px;height:3px"></div>
<div class="cl" style="right:261.12px;bottom:518.00px">PRO</div>
<div class="tk" style="left:53.67px;top:1290.88px;width:3.3px;height:0.9px"></div>
<div class="rl" style="left:0px;width:50.00px;top:1286.68px">PRO</div>
<div class="tk" style="left:448.60px;top:920.97px;width:0.9px;height:3px"></div>
<div class="cl" style="right:235.85px;bottom:518.00px">SER</div>
<div class="tk" style="left:53.67px;top:1316.15px;width:3.3px;height:0.9px"></div>
<div class="rl" style="left:0px;width:50.00px;top:1311.95px">SER</div>
<div class="tk" style="left:473.87px;top:920.97px;width:0.9px;height:3px"></div>
<div class="cl" style="right:210.58px;bottom:518.00px">THR</div>
<div class="tk" style="left:53.67px;top:1341.42px;width:3.3px;height:0.9px"></div>
<div class="rl" style="left:0px;width:50.00px;top:1337.22px">THR</div>
<div class="tk" style="left:499.14px;top:920.97px;width:0.9px;height:3px"></div>
<div class="cl" style="right:185.31px;bottom:518.00px">TRP</div>
<div class="tk" style="left:53.67px;top:1366.69px;width:3.3px;height:0.9px"></div>
<div class="rl" style="left:0px;width:50.00px;top:1362.49px">TRP</div>
<div class="tk" style="left:524.42px;top:920.97px;width:0.9px;height:3px"></div>
<div class="cl" style="right:160.03px;bottom:518.00px">TYR</div>
<div class="tk" style="left:53.67px;top:1391.96px;width:3.3px;height:0.9px"></div>
<div class="rl" style="left:0px;width:50.00px;top:1387.76px">TYR</div>
<div class="tk" style="left:549.69px;top:920.97px;width:0.9px;height:3px"></div>
<div class="cl" style="right:134.76px;bottom:518.00px">VAL</div>
<div class="tk" style="left:53.67px;top:1417.23px;width:3.3px;height:0.9px"></div>
<div class="rl" style="left:0px;width:50.00px;top:1413.03px">VAL</div>
<div class="a" style="left:624.00px;top:924.40px;width:25.90px;height:505.30px;background:linear-gradient(to bottom,#9e0142 0.0%,#b81e48 5.0%,#d43d4f 10.0%,#e45549 15.0%,#f46d43 20.0%,#f88c51 25.0%,#fdad60 30.0%,#fdc776 35.0%,#fee08b 40.0%,#fff0a6 45.0%,#fffebe 50.0%,#f3faac 55.0%,#e6f598 60.0%,#c8e99e 65.0%,#aadca4 70.0%,#89d0a4 75.0%,#66c2a5 80.0%,#4ba4b1 85.0%,#3387bc 90.0%,#496aaf 95.0%,#5e4fa2 100.0%);border:0.8px solid #333"></div>
<div class="tk" style="left:649.90px;top:956.45px;width:3px;height:0.9px"></div>
<div class="t n" style="left:656.80px;top:952.90px">4.5</div>
<div class="tk" style="left:649.90px;top:1016.55px;width:3px;height:0.9px"></div>
<div class="t n" style="left:656.80px;top:1013.00px">4.0</div>
<div class="tk" style="left:649.90px;top:1076.65px;width:3px;height:0.9px"></div>
<div class="t n" style="left:656.80px;top:1073.10px">3.5</div>
<div class="tk" style="left:649.90px;top:1136.75px;width:3px;height:0.9px"></div>
<div class="t n" style="left:656.80px;top:1133.20px">3.0</div>
<div class="tk" style="left:649.90px;top:1196.75px;width:3px;height:0.9px"></div>
<div class="t n" style="left:656.80px;top:1193.20px">2.5</div>
<div class="tk" style="left:649.90px;top:1256.75px;width:3px;height:0.9px"></div>
<div class="t n" style="left:656.80px;top:1253.20px">2.0</div>
<div class="tk" style="left:649.90px;top:1316.75px;width:3px;height:0.9px"></div>
<div class="t n" style="left:656.80px;top:1313.20px">1.5</div>
<div class="tk" style="left:649.90px;top:1376.75px;width:3px;height:0.9px"></div>
<div class="t n" style="left:656.80px;top:1373.20px">1.0</div>
</body></html>
